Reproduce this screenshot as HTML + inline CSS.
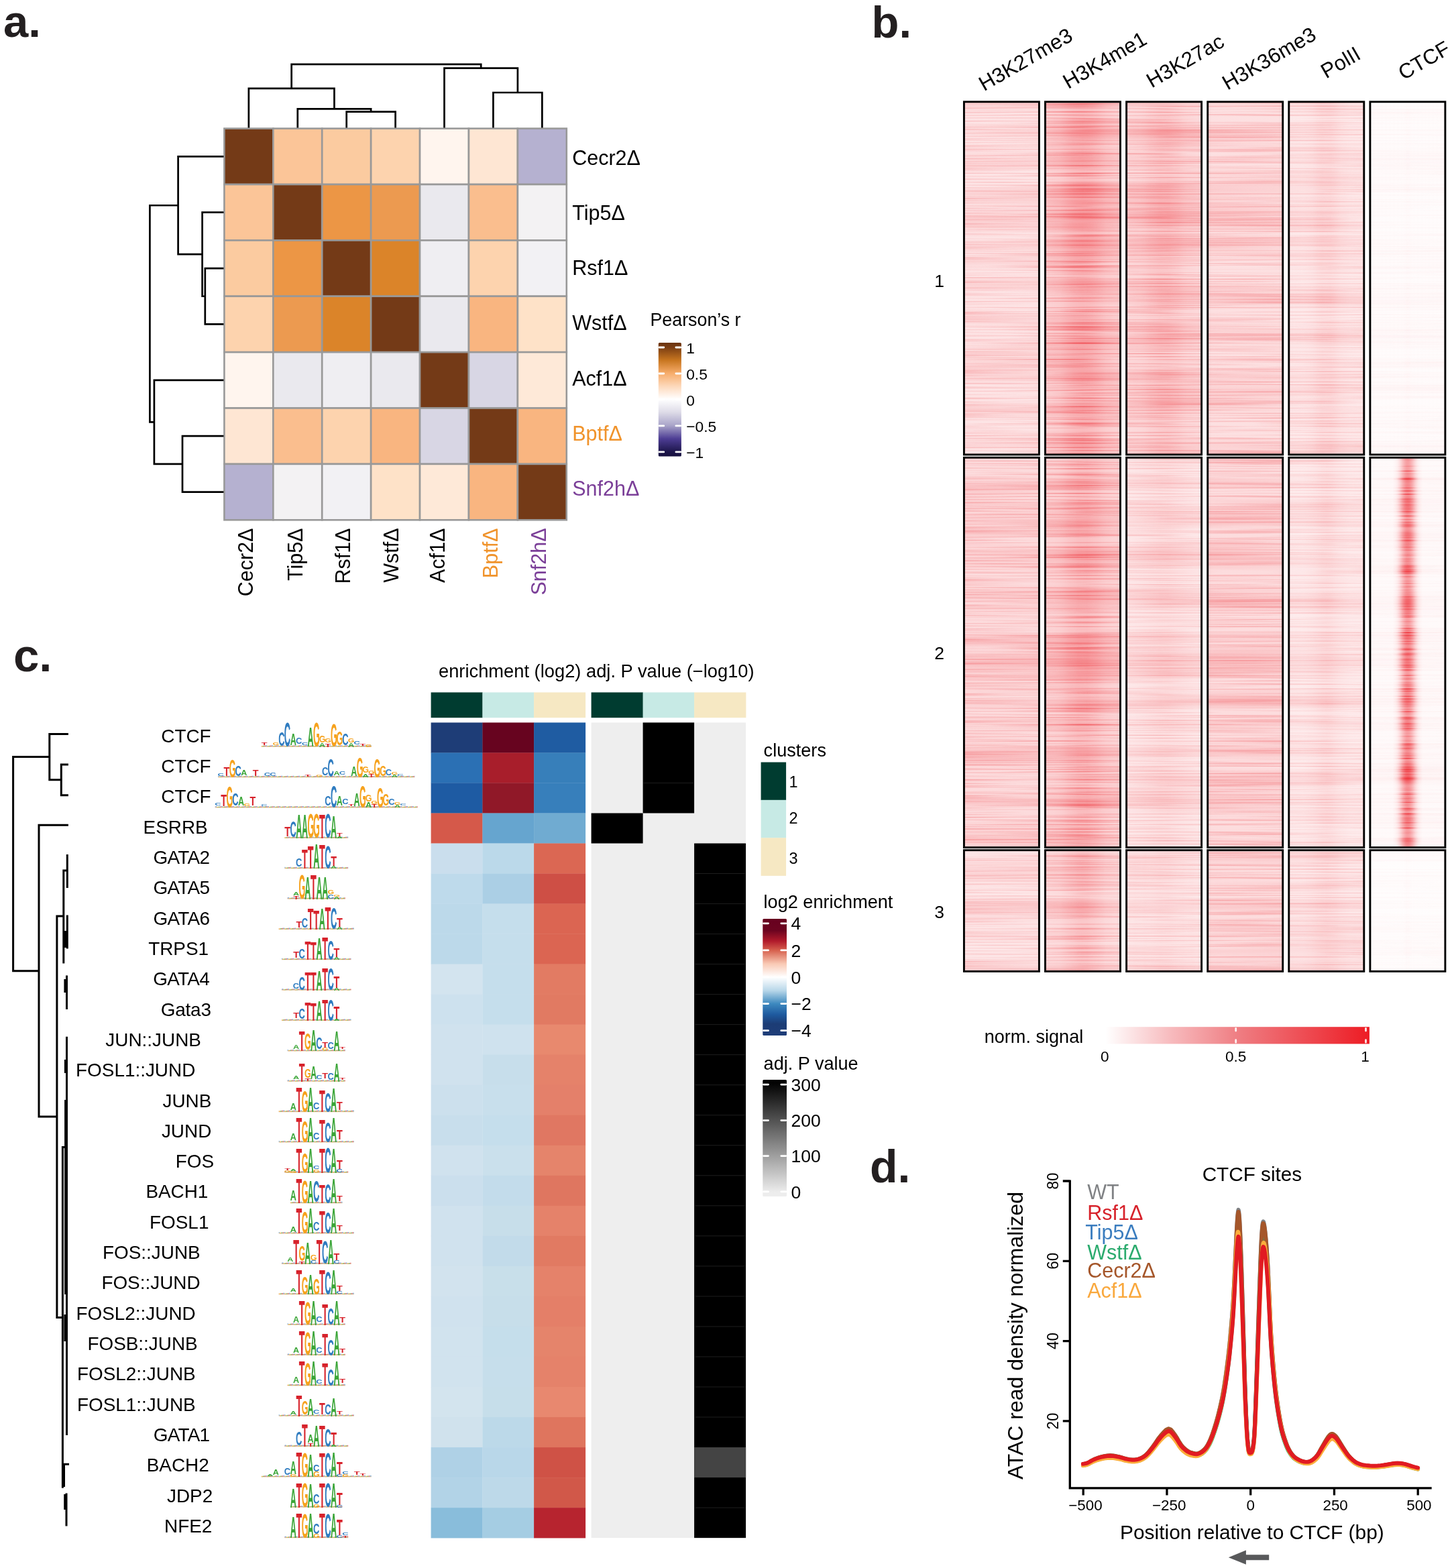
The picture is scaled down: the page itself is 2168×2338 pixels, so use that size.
<!DOCTYPE html>
<html lang="en"><head><meta charset="utf-8"><title>Figure</title>
<style>
html,body{margin:0;padding:0;background:#fff;width:2168px;height:2338px;overflow:hidden}
svg{display:block}
text{font-family:"Liberation Sans",Arial,Helvetica,sans-serif}
</style></head><body>
<svg width="2168" height="2338" viewBox="0 0 2168 2338">
<rect width="2168" height="2338" fill="#fff"/>
<g id="panel-a">
<text x="5" y="54.5" font-size="67" font-weight="bold" fill="#231f20">a.</text>
<g stroke="#999" stroke-width="2.6">
<rect x="334.4" y="191.6" width="72.91" height="83.39" fill="#743a17"/>
<rect x="407.31" y="191.6" width="72.91" height="83.39" fill="#fbc598"/>
<rect x="480.23" y="191.6" width="72.91" height="83.39" fill="#fbcba0"/>
<rect x="553.14" y="191.6" width="72.91" height="83.39" fill="#fdd3ae"/>
<rect x="626.06" y="191.6" width="72.91" height="83.39" fill="#fff5ee"/>
<rect x="698.97" y="191.6" width="72.91" height="83.39" fill="#fee6d3"/>
<rect x="771.89" y="191.6" width="72.91" height="83.39" fill="#b5b1d0"/>
<rect x="334.4" y="274.99" width="72.91" height="83.39" fill="#fbc598"/>
<rect x="407.31" y="274.99" width="72.91" height="83.39" fill="#743a17"/>
<rect x="480.23" y="274.99" width="72.91" height="83.39" fill="#ec9645"/>
<rect x="553.14" y="274.99" width="72.91" height="83.39" fill="#ec9a50"/>
<rect x="626.06" y="274.99" width="72.91" height="83.39" fill="#eae9ee"/>
<rect x="698.97" y="274.99" width="72.91" height="83.39" fill="#fabe8e"/>
<rect x="771.89" y="274.99" width="72.91" height="83.39" fill="#f3f2f3"/>
<rect x="334.4" y="358.37" width="72.91" height="83.39" fill="#fbcba0"/>
<rect x="407.31" y="358.37" width="72.91" height="83.39" fill="#ec9645"/>
<rect x="480.23" y="358.37" width="72.91" height="83.39" fill="#743a17"/>
<rect x="553.14" y="358.37" width="72.91" height="83.39" fill="#db8429"/>
<rect x="626.06" y="358.37" width="72.91" height="83.39" fill="#efeef2"/>
<rect x="698.97" y="358.37" width="72.91" height="83.39" fill="#fdd3ae"/>
<rect x="771.89" y="358.37" width="72.91" height="83.39" fill="#f2f1f4"/>
<rect x="334.4" y="441.76" width="72.91" height="83.39" fill="#fdd3ae"/>
<rect x="407.31" y="441.76" width="72.91" height="83.39" fill="#ec9a50"/>
<rect x="480.23" y="441.76" width="72.91" height="83.39" fill="#db8429"/>
<rect x="553.14" y="441.76" width="72.91" height="83.39" fill="#743a17"/>
<rect x="626.06" y="441.76" width="72.91" height="83.39" fill="#eae9ee"/>
<rect x="698.97" y="441.76" width="72.91" height="83.39" fill="#f9b580"/>
<rect x="771.89" y="441.76" width="72.91" height="83.39" fill="#fee2c8"/>
<rect x="334.4" y="525.14" width="72.91" height="83.39" fill="#fff5ee"/>
<rect x="407.31" y="525.14" width="72.91" height="83.39" fill="#eae9ee"/>
<rect x="480.23" y="525.14" width="72.91" height="83.39" fill="#efeef2"/>
<rect x="553.14" y="525.14" width="72.91" height="83.39" fill="#eae9ee"/>
<rect x="626.06" y="525.14" width="72.91" height="83.39" fill="#743a17"/>
<rect x="698.97" y="525.14" width="72.91" height="83.39" fill="#d8d6e4"/>
<rect x="771.89" y="525.14" width="72.91" height="83.39" fill="#fee9d8"/>
<rect x="334.4" y="608.53" width="72.91" height="83.39" fill="#fee6d3"/>
<rect x="407.31" y="608.53" width="72.91" height="83.39" fill="#fabe8e"/>
<rect x="480.23" y="608.53" width="72.91" height="83.39" fill="#fdd3ae"/>
<rect x="553.14" y="608.53" width="72.91" height="83.39" fill="#f9b580"/>
<rect x="626.06" y="608.53" width="72.91" height="83.39" fill="#d8d6e4"/>
<rect x="698.97" y="608.53" width="72.91" height="83.39" fill="#743a17"/>
<rect x="771.89" y="608.53" width="72.91" height="83.39" fill="#f9b580"/>
<rect x="334.4" y="691.91" width="72.91" height="83.39" fill="#b5b1d0"/>
<rect x="407.31" y="691.91" width="72.91" height="83.39" fill="#f3f2f3"/>
<rect x="480.23" y="691.91" width="72.91" height="83.39" fill="#f2f1f4"/>
<rect x="553.14" y="691.91" width="72.91" height="83.39" fill="#fee2c8"/>
<rect x="626.06" y="691.91" width="72.91" height="83.39" fill="#fee9d8"/>
<rect x="698.97" y="691.91" width="72.91" height="83.39" fill="#f9b580"/>
<rect x="771.89" y="691.91" width="72.91" height="83.39" fill="#743a17"/>
</g>
<path d="M516.69 190.6V166.6H589.6V190.6M443.77 190.6V162.3H553.14V166.6M370.86 190.6V131.8H498.46V162.3M735.43 190.6V138H808.34V190.6M662.51 190.6V101.6H771.89V138M434.66 131.8V95.8H717.2V101.6" fill="none" stroke="#000" stroke-width="2.7" stroke-linejoin="miter"/>
<path d="M333.4 400.06H305.8V483.45H333.4M333.4 316.68H301.6V441.76H305.8M333.4 233.29H265.6V379.22H301.6M333.4 650.22H272V733.61H333.4M333.4 566.84H229.9V691.91H272M265.6 306.26H223.4V629.37H229.9" fill="none" stroke="#000" stroke-width="2.7"/>
<text x="853.2" y="245.8" font-size="30.5">Cecr2Δ</text>
<text transform="translate(376.6 787.5) rotate(-90)" font-size="30.5" text-anchor="end">Cecr2Δ</text>
<text x="853.2" y="328" font-size="30.5">Tip5Δ</text>
<text transform="translate(451.3 787.5) rotate(-90)" font-size="30.5" text-anchor="end">Tip5Δ</text>
<text x="853.2" y="410.2" font-size="30.5">Rsf1Δ</text>
<text transform="translate(521.8 787.5) rotate(-90)" font-size="30.5" text-anchor="end">Rsf1Δ</text>
<text x="853.2" y="492.4" font-size="30.5">WstfΔ</text>
<text transform="translate(593.6 787.5) rotate(-90)" font-size="30.5" text-anchor="end">WstfΔ</text>
<text x="853.2" y="574.6" font-size="30.5">Acf1Δ</text>
<text transform="translate(663.3 787.5) rotate(-90)" font-size="30.5" text-anchor="end">Acf1Δ</text>
<text x="853.2" y="656.8" font-size="30.5" fill="#f0932b">BptfΔ</text>
<text transform="translate(741.9 787.5) rotate(-90)" font-size="30.5" text-anchor="end" fill="#f0932b">BptfΔ</text>
<text x="853.2" y="739" font-size="30.5" fill="#7b3f98">Snf2hΔ</text>
<text transform="translate(814.3 787.5) rotate(-90)" font-size="30.5" text-anchor="end" fill="#7b3f98">Snf2hΔ</text>
<text x="969.5" y="485.7" font-size="26.8">Pearson’s r</text>
<defs><linearGradient id="gPr" x1="0" y1="0" x2="0" y2="1"><stop offset="0" stop-color="#6b3410"/><stop offset="0.04" stop-color="#7a3d12"/><stop offset="0.155" stop-color="#c87620"/><stop offset="0.27" stop-color="#f7ad6c"/><stop offset="0.385" stop-color="#fdd9bc"/><stop offset="0.496" stop-color="#ffffff"/><stop offset="0.61" stop-color="#dedce8"/><stop offset="0.728" stop-color="#a9a4c9"/><stop offset="0.845" stop-color="#4d3d94"/><stop offset="0.96" stop-color="#1d164b"/><stop offset="1" stop-color="#17113f"/></linearGradient></defs>
<rect x="981.8" y="511" width="34.1" height="169.5" rx="1.5" fill="url(#gPr)"/>
<path d="M983 518h6.8M1014.7 518h-6.8M983 557h6.8M1014.7 557h-6.8M983 595.6h6.8M1014.7 595.6h-6.8M983 634.9h6.8M1014.7 634.9h-6.8M983 673.9h6.8M1014.7 673.9h-6.8" fill="none" stroke="#fff" stroke-width="2.8" stroke-linecap="round"/>
<text x="1023.2" y="527.1" font-size="22.8">1</text>
<text x="1023.2" y="566.1" font-size="22.8">0.5</text>
<text x="1023.2" y="604.7" font-size="22.8">0</text>
<text x="1023.2" y="644" font-size="22.8">−0.5</text>
<text x="1023.2" y="683" font-size="22.8">−1</text>
</g>
<g id="panel-b">
<text x="1299.5" y="56.3" font-size="67" font-weight="bold" fill="#231f20">b.</text>
<defs>
<filter id="nzA" x="0" y="0" width="1" height="1" color-interpolation-filters="sRGB"><feTurbulence type="fractalNoise" baseFrequency="0.0015 0.035" numOctaves="3" seed="5"/><feColorMatrix type="matrix" values="0 0 0 0 0.93  0 0 0 0 0.11  0 0 0 0 0.14  1.6 0 0 0 -0.66"/><feComposite in2="SourceGraphic" operator="in"/></filter>
<filter id="nzB" x="0" y="0" width="1" height="1" color-interpolation-filters="sRGB"><feTurbulence type="fractalNoise" baseFrequency="0.004 0.45" numOctaves="2" seed="23"/><feColorMatrix type="matrix" values="0 0 0 0 0.93  0 0 0 0 0.11  0 0 0 0 0.14  0 2.4 0 0 -1.1"/><feComposite in2="SourceGraphic" operator="in"/></filter>
<linearGradient id="p00" x1="0" y1="0" x2="1" y2="0"><stop offset="0" stop-color="#ed1c24" stop-opacity="0.22"/><stop offset="0.06" stop-color="#ed1c24" stop-opacity="0.22"/><stop offset="0.12" stop-color="#ed1c24" stop-opacity="0.22"/><stop offset="0.19" stop-color="#ed1c24" stop-opacity="0.22"/><stop offset="0.25" stop-color="#ed1c24" stop-opacity="0.22"/><stop offset="0.31" stop-color="#ed1c24" stop-opacity="0.22"/><stop offset="0.38" stop-color="#ed1c24" stop-opacity="0.22"/><stop offset="0.44" stop-color="#ed1c24" stop-opacity="0.22"/><stop offset="0.5" stop-color="#ed1c24" stop-opacity="0.22"/><stop offset="0.56" stop-color="#ed1c24" stop-opacity="0.22"/><stop offset="0.62" stop-color="#ed1c24" stop-opacity="0.22"/><stop offset="0.69" stop-color="#ed1c24" stop-opacity="0.22"/><stop offset="0.75" stop-color="#ed1c24" stop-opacity="0.22"/><stop offset="0.81" stop-color="#ed1c24" stop-opacity="0.22"/><stop offset="0.88" stop-color="#ed1c24" stop-opacity="0.22"/><stop offset="0.94" stop-color="#ed1c24" stop-opacity="0.22"/><stop offset="1" stop-color="#ed1c24" stop-opacity="0.22"/></linearGradient>
<linearGradient id="p01" x1="0" y1="0" x2="1" y2="0"><stop offset="0" stop-color="#ed1c24" stop-opacity="0.29"/><stop offset="0.06" stop-color="#ed1c24" stop-opacity="0.29"/><stop offset="0.12" stop-color="#ed1c24" stop-opacity="0.29"/><stop offset="0.19" stop-color="#ed1c24" stop-opacity="0.29"/><stop offset="0.25" stop-color="#ed1c24" stop-opacity="0.29"/><stop offset="0.31" stop-color="#ed1c24" stop-opacity="0.29"/><stop offset="0.38" stop-color="#ed1c24" stop-opacity="0.29"/><stop offset="0.44" stop-color="#ed1c24" stop-opacity="0.29"/><stop offset="0.5" stop-color="#ed1c24" stop-opacity="0.29"/><stop offset="0.56" stop-color="#ed1c24" stop-opacity="0.29"/><stop offset="0.62" stop-color="#ed1c24" stop-opacity="0.29"/><stop offset="0.69" stop-color="#ed1c24" stop-opacity="0.29"/><stop offset="0.75" stop-color="#ed1c24" stop-opacity="0.29"/><stop offset="0.81" stop-color="#ed1c24" stop-opacity="0.29"/><stop offset="0.88" stop-color="#ed1c24" stop-opacity="0.29"/><stop offset="0.94" stop-color="#ed1c24" stop-opacity="0.29"/><stop offset="1" stop-color="#ed1c24" stop-opacity="0.29"/></linearGradient>
<linearGradient id="p02" x1="0" y1="0" x2="1" y2="0"><stop offset="0" stop-color="#ed1c24" stop-opacity="0.2"/><stop offset="0.06" stop-color="#ed1c24" stop-opacity="0.2"/><stop offset="0.12" stop-color="#ed1c24" stop-opacity="0.2"/><stop offset="0.19" stop-color="#ed1c24" stop-opacity="0.2"/><stop offset="0.25" stop-color="#ed1c24" stop-opacity="0.2"/><stop offset="0.31" stop-color="#ed1c24" stop-opacity="0.2"/><stop offset="0.38" stop-color="#ed1c24" stop-opacity="0.2"/><stop offset="0.44" stop-color="#ed1c24" stop-opacity="0.2"/><stop offset="0.5" stop-color="#ed1c24" stop-opacity="0.2"/><stop offset="0.56" stop-color="#ed1c24" stop-opacity="0.2"/><stop offset="0.62" stop-color="#ed1c24" stop-opacity="0.2"/><stop offset="0.69" stop-color="#ed1c24" stop-opacity="0.2"/><stop offset="0.75" stop-color="#ed1c24" stop-opacity="0.2"/><stop offset="0.81" stop-color="#ed1c24" stop-opacity="0.2"/><stop offset="0.88" stop-color="#ed1c24" stop-opacity="0.2"/><stop offset="0.94" stop-color="#ed1c24" stop-opacity="0.2"/><stop offset="1" stop-color="#ed1c24" stop-opacity="0.2"/></linearGradient>
<linearGradient id="p10" x1="0" y1="0" x2="1" y2="0"><stop offset="0" stop-color="#ed1c24" stop-opacity="0.35"/><stop offset="0.06" stop-color="#ed1c24" stop-opacity="0.36"/><stop offset="0.12" stop-color="#ed1c24" stop-opacity="0.38"/><stop offset="0.19" stop-color="#ed1c24" stop-opacity="0.4"/><stop offset="0.25" stop-color="#ed1c24" stop-opacity="0.44"/><stop offset="0.31" stop-color="#ed1c24" stop-opacity="0.48"/><stop offset="0.38" stop-color="#ed1c24" stop-opacity="0.52"/><stop offset="0.44" stop-color="#ed1c24" stop-opacity="0.54"/><stop offset="0.5" stop-color="#ed1c24" stop-opacity="0.55"/><stop offset="0.56" stop-color="#ed1c24" stop-opacity="0.54"/><stop offset="0.62" stop-color="#ed1c24" stop-opacity="0.52"/><stop offset="0.69" stop-color="#ed1c24" stop-opacity="0.48"/><stop offset="0.75" stop-color="#ed1c24" stop-opacity="0.44"/><stop offset="0.81" stop-color="#ed1c24" stop-opacity="0.4"/><stop offset="0.88" stop-color="#ed1c24" stop-opacity="0.38"/><stop offset="0.94" stop-color="#ed1c24" stop-opacity="0.36"/><stop offset="1" stop-color="#ed1c24" stop-opacity="0.35"/></linearGradient>
<linearGradient id="p11" x1="0" y1="0" x2="1" y2="0"><stop offset="0" stop-color="#ed1c24" stop-opacity="0.34"/><stop offset="0.06" stop-color="#ed1c24" stop-opacity="0.35"/><stop offset="0.12" stop-color="#ed1c24" stop-opacity="0.36"/><stop offset="0.19" stop-color="#ed1c24" stop-opacity="0.38"/><stop offset="0.25" stop-color="#ed1c24" stop-opacity="0.41"/><stop offset="0.31" stop-color="#ed1c24" stop-opacity="0.45"/><stop offset="0.38" stop-color="#ed1c24" stop-opacity="0.48"/><stop offset="0.44" stop-color="#ed1c24" stop-opacity="0.51"/><stop offset="0.5" stop-color="#ed1c24" stop-opacity="0.51"/><stop offset="0.56" stop-color="#ed1c24" stop-opacity="0.51"/><stop offset="0.62" stop-color="#ed1c24" stop-opacity="0.48"/><stop offset="0.69" stop-color="#ed1c24" stop-opacity="0.45"/><stop offset="0.75" stop-color="#ed1c24" stop-opacity="0.41"/><stop offset="0.81" stop-color="#ed1c24" stop-opacity="0.38"/><stop offset="0.88" stop-color="#ed1c24" stop-opacity="0.36"/><stop offset="0.94" stop-color="#ed1c24" stop-opacity="0.35"/><stop offset="1" stop-color="#ed1c24" stop-opacity="0.34"/></linearGradient>
<linearGradient id="p12" x1="0" y1="0" x2="1" y2="0"><stop offset="0" stop-color="#ed1c24" stop-opacity="0.26"/><stop offset="0.06" stop-color="#ed1c24" stop-opacity="0.26"/><stop offset="0.12" stop-color="#ed1c24" stop-opacity="0.27"/><stop offset="0.19" stop-color="#ed1c24" stop-opacity="0.28"/><stop offset="0.25" stop-color="#ed1c24" stop-opacity="0.31"/><stop offset="0.31" stop-color="#ed1c24" stop-opacity="0.34"/><stop offset="0.38" stop-color="#ed1c24" stop-opacity="0.37"/><stop offset="0.44" stop-color="#ed1c24" stop-opacity="0.4"/><stop offset="0.5" stop-color="#ed1c24" stop-opacity="0.41"/><stop offset="0.56" stop-color="#ed1c24" stop-opacity="0.4"/><stop offset="0.62" stop-color="#ed1c24" stop-opacity="0.37"/><stop offset="0.69" stop-color="#ed1c24" stop-opacity="0.34"/><stop offset="0.75" stop-color="#ed1c24" stop-opacity="0.31"/><stop offset="0.81" stop-color="#ed1c24" stop-opacity="0.28"/><stop offset="0.88" stop-color="#ed1c24" stop-opacity="0.27"/><stop offset="0.94" stop-color="#ed1c24" stop-opacity="0.26"/><stop offset="1" stop-color="#ed1c24" stop-opacity="0.26"/></linearGradient>
<linearGradient id="p20" x1="0" y1="0" x2="1" y2="0"><stop offset="0" stop-color="#ed1c24" stop-opacity="0.29"/><stop offset="0.06" stop-color="#ed1c24" stop-opacity="0.3"/><stop offset="0.12" stop-color="#ed1c24" stop-opacity="0.31"/><stop offset="0.19" stop-color="#ed1c24" stop-opacity="0.32"/><stop offset="0.25" stop-color="#ed1c24" stop-opacity="0.34"/><stop offset="0.31" stop-color="#ed1c24" stop-opacity="0.37"/><stop offset="0.38" stop-color="#ed1c24" stop-opacity="0.39"/><stop offset="0.44" stop-color="#ed1c24" stop-opacity="0.41"/><stop offset="0.5" stop-color="#ed1c24" stop-opacity="0.41"/><stop offset="0.56" stop-color="#ed1c24" stop-opacity="0.41"/><stop offset="0.62" stop-color="#ed1c24" stop-opacity="0.39"/><stop offset="0.69" stop-color="#ed1c24" stop-opacity="0.37"/><stop offset="0.75" stop-color="#ed1c24" stop-opacity="0.34"/><stop offset="0.81" stop-color="#ed1c24" stop-opacity="0.32"/><stop offset="0.88" stop-color="#ed1c24" stop-opacity="0.31"/><stop offset="0.94" stop-color="#ed1c24" stop-opacity="0.3"/><stop offset="1" stop-color="#ed1c24" stop-opacity="0.29"/></linearGradient>
<linearGradient id="p21" x1="0" y1="0" x2="1" y2="0"><stop offset="0" stop-color="#ed1c24" stop-opacity="0.19"/><stop offset="0.06" stop-color="#ed1c24" stop-opacity="0.19"/><stop offset="0.12" stop-color="#ed1c24" stop-opacity="0.2"/><stop offset="0.19" stop-color="#ed1c24" stop-opacity="0.21"/><stop offset="0.25" stop-color="#ed1c24" stop-opacity="0.22"/><stop offset="0.31" stop-color="#ed1c24" stop-opacity="0.23"/><stop offset="0.38" stop-color="#ed1c24" stop-opacity="0.24"/><stop offset="0.44" stop-color="#ed1c24" stop-opacity="0.25"/><stop offset="0.5" stop-color="#ed1c24" stop-opacity="0.25"/><stop offset="0.56" stop-color="#ed1c24" stop-opacity="0.25"/><stop offset="0.62" stop-color="#ed1c24" stop-opacity="0.24"/><stop offset="0.69" stop-color="#ed1c24" stop-opacity="0.23"/><stop offset="0.75" stop-color="#ed1c24" stop-opacity="0.22"/><stop offset="0.81" stop-color="#ed1c24" stop-opacity="0.21"/><stop offset="0.88" stop-color="#ed1c24" stop-opacity="0.2"/><stop offset="0.94" stop-color="#ed1c24" stop-opacity="0.19"/><stop offset="1" stop-color="#ed1c24" stop-opacity="0.19"/></linearGradient>
<linearGradient id="p22" x1="0" y1="0" x2="1" y2="0"><stop offset="0" stop-color="#ed1c24" stop-opacity="0.2"/><stop offset="0.06" stop-color="#ed1c24" stop-opacity="0.2"/><stop offset="0.12" stop-color="#ed1c24" stop-opacity="0.21"/><stop offset="0.19" stop-color="#ed1c24" stop-opacity="0.21"/><stop offset="0.25" stop-color="#ed1c24" stop-opacity="0.22"/><stop offset="0.31" stop-color="#ed1c24" stop-opacity="0.22"/><stop offset="0.38" stop-color="#ed1c24" stop-opacity="0.23"/><stop offset="0.44" stop-color="#ed1c24" stop-opacity="0.24"/><stop offset="0.5" stop-color="#ed1c24" stop-opacity="0.24"/><stop offset="0.56" stop-color="#ed1c24" stop-opacity="0.24"/><stop offset="0.62" stop-color="#ed1c24" stop-opacity="0.23"/><stop offset="0.69" stop-color="#ed1c24" stop-opacity="0.22"/><stop offset="0.75" stop-color="#ed1c24" stop-opacity="0.22"/><stop offset="0.81" stop-color="#ed1c24" stop-opacity="0.21"/><stop offset="0.88" stop-color="#ed1c24" stop-opacity="0.21"/><stop offset="0.94" stop-color="#ed1c24" stop-opacity="0.2"/><stop offset="1" stop-color="#ed1c24" stop-opacity="0.2"/></linearGradient>
<linearGradient id="p30" x1="0" y1="0" x2="1" y2="0"><stop offset="0" stop-color="#ed1c24" stop-opacity="0.25"/><stop offset="0.06" stop-color="#ed1c24" stop-opacity="0.25"/><stop offset="0.12" stop-color="#ed1c24" stop-opacity="0.25"/><stop offset="0.19" stop-color="#ed1c24" stop-opacity="0.25"/><stop offset="0.25" stop-color="#ed1c24" stop-opacity="0.25"/><stop offset="0.31" stop-color="#ed1c24" stop-opacity="0.25"/><stop offset="0.38" stop-color="#ed1c24" stop-opacity="0.25"/><stop offset="0.44" stop-color="#ed1c24" stop-opacity="0.25"/><stop offset="0.5" stop-color="#ed1c24" stop-opacity="0.25"/><stop offset="0.56" stop-color="#ed1c24" stop-opacity="0.25"/><stop offset="0.62" stop-color="#ed1c24" stop-opacity="0.25"/><stop offset="0.69" stop-color="#ed1c24" stop-opacity="0.25"/><stop offset="0.75" stop-color="#ed1c24" stop-opacity="0.25"/><stop offset="0.81" stop-color="#ed1c24" stop-opacity="0.25"/><stop offset="0.88" stop-color="#ed1c24" stop-opacity="0.25"/><stop offset="0.94" stop-color="#ed1c24" stop-opacity="0.25"/><stop offset="1" stop-color="#ed1c24" stop-opacity="0.25"/></linearGradient>
<linearGradient id="p31" x1="0" y1="0" x2="1" y2="0"><stop offset="0" stop-color="#ed1c24" stop-opacity="0.27"/><stop offset="0.06" stop-color="#ed1c24" stop-opacity="0.28"/><stop offset="0.12" stop-color="#ed1c24" stop-opacity="0.28"/><stop offset="0.19" stop-color="#ed1c24" stop-opacity="0.28"/><stop offset="0.25" stop-color="#ed1c24" stop-opacity="0.28"/><stop offset="0.31" stop-color="#ed1c24" stop-opacity="0.28"/><stop offset="0.38" stop-color="#ed1c24" stop-opacity="0.28"/><stop offset="0.44" stop-color="#ed1c24" stop-opacity="0.28"/><stop offset="0.5" stop-color="#ed1c24" stop-opacity="0.28"/><stop offset="0.56" stop-color="#ed1c24" stop-opacity="0.28"/><stop offset="0.62" stop-color="#ed1c24" stop-opacity="0.28"/><stop offset="0.69" stop-color="#ed1c24" stop-opacity="0.28"/><stop offset="0.75" stop-color="#ed1c24" stop-opacity="0.28"/><stop offset="0.81" stop-color="#ed1c24" stop-opacity="0.28"/><stop offset="0.88" stop-color="#ed1c24" stop-opacity="0.28"/><stop offset="0.94" stop-color="#ed1c24" stop-opacity="0.28"/><stop offset="1" stop-color="#ed1c24" stop-opacity="0.27"/></linearGradient>
<linearGradient id="p32" x1="0" y1="0" x2="1" y2="0"><stop offset="0" stop-color="#ed1c24" stop-opacity="0.27"/><stop offset="0.06" stop-color="#ed1c24" stop-opacity="0.28"/><stop offset="0.12" stop-color="#ed1c24" stop-opacity="0.28"/><stop offset="0.19" stop-color="#ed1c24" stop-opacity="0.28"/><stop offset="0.25" stop-color="#ed1c24" stop-opacity="0.28"/><stop offset="0.31" stop-color="#ed1c24" stop-opacity="0.28"/><stop offset="0.38" stop-color="#ed1c24" stop-opacity="0.28"/><stop offset="0.44" stop-color="#ed1c24" stop-opacity="0.28"/><stop offset="0.5" stop-color="#ed1c24" stop-opacity="0.28"/><stop offset="0.56" stop-color="#ed1c24" stop-opacity="0.28"/><stop offset="0.62" stop-color="#ed1c24" stop-opacity="0.28"/><stop offset="0.69" stop-color="#ed1c24" stop-opacity="0.28"/><stop offset="0.75" stop-color="#ed1c24" stop-opacity="0.28"/><stop offset="0.81" stop-color="#ed1c24" stop-opacity="0.28"/><stop offset="0.88" stop-color="#ed1c24" stop-opacity="0.28"/><stop offset="0.94" stop-color="#ed1c24" stop-opacity="0.28"/><stop offset="1" stop-color="#ed1c24" stop-opacity="0.27"/></linearGradient>
<linearGradient id="p40" x1="0" y1="0" x2="1" y2="0"><stop offset="0" stop-color="#ed1c24" stop-opacity="0.18"/><stop offset="0.06" stop-color="#ed1c24" stop-opacity="0.18"/><stop offset="0.12" stop-color="#ed1c24" stop-opacity="0.18"/><stop offset="0.19" stop-color="#ed1c24" stop-opacity="0.18"/><stop offset="0.25" stop-color="#ed1c24" stop-opacity="0.19"/><stop offset="0.31" stop-color="#ed1c24" stop-opacity="0.2"/><stop offset="0.38" stop-color="#ed1c24" stop-opacity="0.23"/><stop offset="0.44" stop-color="#ed1c24" stop-opacity="0.25"/><stop offset="0.5" stop-color="#ed1c24" stop-opacity="0.25"/><stop offset="0.56" stop-color="#ed1c24" stop-opacity="0.25"/><stop offset="0.62" stop-color="#ed1c24" stop-opacity="0.23"/><stop offset="0.69" stop-color="#ed1c24" stop-opacity="0.2"/><stop offset="0.75" stop-color="#ed1c24" stop-opacity="0.19"/><stop offset="0.81" stop-color="#ed1c24" stop-opacity="0.18"/><stop offset="0.88" stop-color="#ed1c24" stop-opacity="0.18"/><stop offset="0.94" stop-color="#ed1c24" stop-opacity="0.18"/><stop offset="1" stop-color="#ed1c24" stop-opacity="0.18"/></linearGradient>
<linearGradient id="p41" x1="0" y1="0" x2="1" y2="0"><stop offset="0" stop-color="#ed1c24" stop-opacity="0.16"/><stop offset="0.06" stop-color="#ed1c24" stop-opacity="0.16"/><stop offset="0.12" stop-color="#ed1c24" stop-opacity="0.16"/><stop offset="0.19" stop-color="#ed1c24" stop-opacity="0.16"/><stop offset="0.25" stop-color="#ed1c24" stop-opacity="0.17"/><stop offset="0.31" stop-color="#ed1c24" stop-opacity="0.18"/><stop offset="0.38" stop-color="#ed1c24" stop-opacity="0.2"/><stop offset="0.44" stop-color="#ed1c24" stop-opacity="0.22"/><stop offset="0.5" stop-color="#ed1c24" stop-opacity="0.23"/><stop offset="0.56" stop-color="#ed1c24" stop-opacity="0.22"/><stop offset="0.62" stop-color="#ed1c24" stop-opacity="0.2"/><stop offset="0.69" stop-color="#ed1c24" stop-opacity="0.18"/><stop offset="0.75" stop-color="#ed1c24" stop-opacity="0.17"/><stop offset="0.81" stop-color="#ed1c24" stop-opacity="0.16"/><stop offset="0.88" stop-color="#ed1c24" stop-opacity="0.16"/><stop offset="0.94" stop-color="#ed1c24" stop-opacity="0.16"/><stop offset="1" stop-color="#ed1c24" stop-opacity="0.16"/></linearGradient>
<linearGradient id="p42" x1="0" y1="0" x2="1" y2="0"><stop offset="0" stop-color="#ed1c24" stop-opacity="0.19"/><stop offset="0.06" stop-color="#ed1c24" stop-opacity="0.19"/><stop offset="0.12" stop-color="#ed1c24" stop-opacity="0.19"/><stop offset="0.19" stop-color="#ed1c24" stop-opacity="0.19"/><stop offset="0.25" stop-color="#ed1c24" stop-opacity="0.2"/><stop offset="0.31" stop-color="#ed1c24" stop-opacity="0.21"/><stop offset="0.38" stop-color="#ed1c24" stop-opacity="0.23"/><stop offset="0.44" stop-color="#ed1c24" stop-opacity="0.24"/><stop offset="0.5" stop-color="#ed1c24" stop-opacity="0.25"/><stop offset="0.56" stop-color="#ed1c24" stop-opacity="0.24"/><stop offset="0.62" stop-color="#ed1c24" stop-opacity="0.23"/><stop offset="0.69" stop-color="#ed1c24" stop-opacity="0.21"/><stop offset="0.75" stop-color="#ed1c24" stop-opacity="0.2"/><stop offset="0.81" stop-color="#ed1c24" stop-opacity="0.19"/><stop offset="0.88" stop-color="#ed1c24" stop-opacity="0.19"/><stop offset="0.94" stop-color="#ed1c24" stop-opacity="0.19"/><stop offset="1" stop-color="#ed1c24" stop-opacity="0.19"/></linearGradient>
<linearGradient id="p50" x1="0" y1="0" x2="1" y2="0"><stop offset="0" stop-color="#ed1c24" stop-opacity="0.03"/><stop offset="0.06" stop-color="#ed1c24" stop-opacity="0.03"/><stop offset="0.12" stop-color="#ed1c24" stop-opacity="0.03"/><stop offset="0.19" stop-color="#ed1c24" stop-opacity="0.03"/><stop offset="0.25" stop-color="#ed1c24" stop-opacity="0.03"/><stop offset="0.31" stop-color="#ed1c24" stop-opacity="0.03"/><stop offset="0.38" stop-color="#ed1c24" stop-opacity="0.03"/><stop offset="0.44" stop-color="#ed1c24" stop-opacity="0.03"/><stop offset="0.5" stop-color="#ed1c24" stop-opacity="0.04"/><stop offset="0.56" stop-color="#ed1c24" stop-opacity="0.03"/><stop offset="0.62" stop-color="#ed1c24" stop-opacity="0.03"/><stop offset="0.69" stop-color="#ed1c24" stop-opacity="0.03"/><stop offset="0.75" stop-color="#ed1c24" stop-opacity="0.03"/><stop offset="0.81" stop-color="#ed1c24" stop-opacity="0.03"/><stop offset="0.88" stop-color="#ed1c24" stop-opacity="0.03"/><stop offset="0.94" stop-color="#ed1c24" stop-opacity="0.03"/><stop offset="1" stop-color="#ed1c24" stop-opacity="0.03"/></linearGradient>
<linearGradient id="p51" x1="0" y1="0" x2="1" y2="0"><stop offset="0.3" stop-color="#ed1c24" stop-opacity="0.04"/><stop offset="0.31" stop-color="#ed1c24" stop-opacity="0.05"/><stop offset="0.32" stop-color="#ed1c24" stop-opacity="0.06"/><stop offset="0.33" stop-color="#ed1c24" stop-opacity="0.07"/><stop offset="0.34" stop-color="#ed1c24" stop-opacity="0.08"/><stop offset="0.35" stop-color="#ed1c24" stop-opacity="0.1"/><stop offset="0.36" stop-color="#ed1c24" stop-opacity="0.12"/><stop offset="0.37" stop-color="#ed1c24" stop-opacity="0.15"/><stop offset="0.38" stop-color="#ed1c24" stop-opacity="0.19"/><stop offset="0.39" stop-color="#ed1c24" stop-opacity="0.23"/><stop offset="0.4" stop-color="#ed1c24" stop-opacity="0.28"/><stop offset="0.41" stop-color="#ed1c24" stop-opacity="0.34"/><stop offset="0.42" stop-color="#ed1c24" stop-opacity="0.4"/><stop offset="0.43" stop-color="#ed1c24" stop-opacity="0.47"/><stop offset="0.44" stop-color="#ed1c24" stop-opacity="0.53"/><stop offset="0.45" stop-color="#ed1c24" stop-opacity="0.59"/><stop offset="0.46" stop-color="#ed1c24" stop-opacity="0.65"/><stop offset="0.47" stop-color="#ed1c24" stop-opacity="0.7"/><stop offset="0.48" stop-color="#ed1c24" stop-opacity="0.74"/><stop offset="0.49" stop-color="#ed1c24" stop-opacity="0.76"/><stop offset="0.5" stop-color="#ed1c24" stop-opacity="0.77"/><stop offset="0.51" stop-color="#ed1c24" stop-opacity="0.76"/><stop offset="0.52" stop-color="#ed1c24" stop-opacity="0.74"/><stop offset="0.53" stop-color="#ed1c24" stop-opacity="0.7"/><stop offset="0.54" stop-color="#ed1c24" stop-opacity="0.65"/><stop offset="0.55" stop-color="#ed1c24" stop-opacity="0.59"/><stop offset="0.56" stop-color="#ed1c24" stop-opacity="0.53"/><stop offset="0.57" stop-color="#ed1c24" stop-opacity="0.47"/><stop offset="0.58" stop-color="#ed1c24" stop-opacity="0.4"/><stop offset="0.59" stop-color="#ed1c24" stop-opacity="0.34"/><stop offset="0.6" stop-color="#ed1c24" stop-opacity="0.28"/><stop offset="0.61" stop-color="#ed1c24" stop-opacity="0.23"/><stop offset="0.62" stop-color="#ed1c24" stop-opacity="0.19"/><stop offset="0.63" stop-color="#ed1c24" stop-opacity="0.15"/><stop offset="0.64" stop-color="#ed1c24" stop-opacity="0.12"/><stop offset="0.65" stop-color="#ed1c24" stop-opacity="0.1"/><stop offset="0.66" stop-color="#ed1c24" stop-opacity="0.08"/><stop offset="0.67" stop-color="#ed1c24" stop-opacity="0.07"/><stop offset="0.68" stop-color="#ed1c24" stop-opacity="0.06"/><stop offset="0.69" stop-color="#ed1c24" stop-opacity="0.05"/><stop offset="0.7" stop-color="#ed1c24" stop-opacity="0.04"/></linearGradient>
<linearGradient id="p52" x1="0" y1="0" x2="1" y2="0"><stop offset="0" stop-color="#ed1c24" stop-opacity="0.02"/><stop offset="0.06" stop-color="#ed1c24" stop-opacity="0.02"/><stop offset="0.12" stop-color="#ed1c24" stop-opacity="0.02"/><stop offset="0.19" stop-color="#ed1c24" stop-opacity="0.02"/><stop offset="0.25" stop-color="#ed1c24" stop-opacity="0.02"/><stop offset="0.31" stop-color="#ed1c24" stop-opacity="0.02"/><stop offset="0.38" stop-color="#ed1c24" stop-opacity="0.02"/><stop offset="0.44" stop-color="#ed1c24" stop-opacity="0.02"/><stop offset="0.5" stop-color="#ed1c24" stop-opacity="0.03"/><stop offset="0.56" stop-color="#ed1c24" stop-opacity="0.02"/><stop offset="0.62" stop-color="#ed1c24" stop-opacity="0.02"/><stop offset="0.69" stop-color="#ed1c24" stop-opacity="0.02"/><stop offset="0.75" stop-color="#ed1c24" stop-opacity="0.02"/><stop offset="0.81" stop-color="#ed1c24" stop-opacity="0.02"/><stop offset="0.88" stop-color="#ed1c24" stop-opacity="0.02"/><stop offset="0.94" stop-color="#ed1c24" stop-opacity="0.02"/><stop offset="1" stop-color="#ed1c24" stop-opacity="0.02"/></linearGradient>
</defs>
<rect x="1437.4" y="151.8" width="112" height="526.1" fill="url(#p00)" opacity="0.55"/>
<rect x="1437.4" y="151.8" width="112" height="526.1" fill="url(#p00)" filter="url(#nzA)"/>
<rect x="1437.4" y="151.8" width="112" height="526.1" fill="url(#p00)" filter="url(#nzB)"/>
<rect x="1558.5" y="151.8" width="112" height="526.1" fill="url(#p10)" opacity="0.55"/>
<rect x="1558.5" y="151.8" width="112" height="526.1" fill="url(#p10)" filter="url(#nzA)"/>
<rect x="1558.5" y="151.8" width="112" height="526.1" fill="url(#p10)" filter="url(#nzB)"/>
<rect x="1679.6" y="151.8" width="112" height="526.1" fill="url(#p20)" opacity="0.55"/>
<rect x="1679.6" y="151.8" width="112" height="526.1" fill="url(#p20)" filter="url(#nzA)"/>
<rect x="1679.6" y="151.8" width="112" height="526.1" fill="url(#p20)" filter="url(#nzB)"/>
<rect x="1800.7" y="151.8" width="112" height="526.1" fill="url(#p30)" opacity="0.55"/>
<rect x="1800.7" y="151.8" width="112" height="526.1" fill="url(#p30)" filter="url(#nzA)"/>
<rect x="1800.7" y="151.8" width="112" height="526.1" fill="url(#p30)" filter="url(#nzB)"/>
<rect x="1921.8" y="151.8" width="112" height="526.1" fill="url(#p40)" opacity="0.55"/>
<rect x="1921.8" y="151.8" width="112" height="526.1" fill="url(#p40)" filter="url(#nzA)"/>
<rect x="1921.8" y="151.8" width="112" height="526.1" fill="url(#p40)" filter="url(#nzB)"/>
<rect x="2042.9" y="151.8" width="112" height="526.1" fill="url(#p50)" opacity="0.55"/>
<rect x="2042.9" y="151.8" width="112" height="526.1" fill="url(#p50)" filter="url(#nzA)"/>
<rect x="2042.9" y="151.8" width="112" height="526.1" fill="url(#p50)" filter="url(#nzB)"/>
<rect x="1437.4" y="682.3" width="112" height="581.3" fill="url(#p01)" opacity="0.55"/>
<rect x="1437.4" y="682.3" width="112" height="581.3" fill="url(#p01)" filter="url(#nzA)"/>
<rect x="1437.4" y="682.3" width="112" height="581.3" fill="url(#p01)" filter="url(#nzB)"/>
<rect x="1558.5" y="682.3" width="112" height="581.3" fill="url(#p11)" opacity="0.55"/>
<rect x="1558.5" y="682.3" width="112" height="581.3" fill="url(#p11)" filter="url(#nzA)"/>
<rect x="1558.5" y="682.3" width="112" height="581.3" fill="url(#p11)" filter="url(#nzB)"/>
<rect x="1679.6" y="682.3" width="112" height="581.3" fill="url(#p21)" opacity="0.55"/>
<rect x="1679.6" y="682.3" width="112" height="581.3" fill="url(#p21)" filter="url(#nzA)"/>
<rect x="1679.6" y="682.3" width="112" height="581.3" fill="url(#p21)" filter="url(#nzB)"/>
<rect x="1800.7" y="682.3" width="112" height="581.3" fill="url(#p31)" opacity="0.55"/>
<rect x="1800.7" y="682.3" width="112" height="581.3" fill="url(#p31)" filter="url(#nzA)"/>
<rect x="1800.7" y="682.3" width="112" height="581.3" fill="url(#p31)" filter="url(#nzB)"/>
<rect x="1921.8" y="682.3" width="112" height="581.3" fill="url(#p41)" opacity="0.55"/>
<rect x="1921.8" y="682.3" width="112" height="581.3" fill="url(#p41)" filter="url(#nzA)"/>
<rect x="1921.8" y="682.3" width="112" height="581.3" fill="url(#p41)" filter="url(#nzB)"/>
<rect x="2042.9" y="682.3" width="112" height="581.3" fill="url(#p51)" opacity="0.55"/>
<rect x="2042.9" y="682.3" width="112" height="581.3" fill="url(#p51)" filter="url(#nzA)"/>
<rect x="2042.9" y="682.3" width="112" height="581.3" fill="url(#p51)" filter="url(#nzB)"/>
<rect x="1437.4" y="1267.7" width="112" height="180.7" fill="url(#p02)" opacity="0.55"/>
<rect x="1437.4" y="1267.7" width="112" height="180.7" fill="url(#p02)" filter="url(#nzA)"/>
<rect x="1437.4" y="1267.7" width="112" height="180.7" fill="url(#p02)" filter="url(#nzB)"/>
<rect x="1558.5" y="1267.7" width="112" height="180.7" fill="url(#p12)" opacity="0.55"/>
<rect x="1558.5" y="1267.7" width="112" height="180.7" fill="url(#p12)" filter="url(#nzA)"/>
<rect x="1558.5" y="1267.7" width="112" height="180.7" fill="url(#p12)" filter="url(#nzB)"/>
<rect x="1679.6" y="1267.7" width="112" height="180.7" fill="url(#p22)" opacity="0.55"/>
<rect x="1679.6" y="1267.7" width="112" height="180.7" fill="url(#p22)" filter="url(#nzA)"/>
<rect x="1679.6" y="1267.7" width="112" height="180.7" fill="url(#p22)" filter="url(#nzB)"/>
<rect x="1800.7" y="1267.7" width="112" height="180.7" fill="url(#p32)" opacity="0.55"/>
<rect x="1800.7" y="1267.7" width="112" height="180.7" fill="url(#p32)" filter="url(#nzA)"/>
<rect x="1800.7" y="1267.7" width="112" height="180.7" fill="url(#p32)" filter="url(#nzB)"/>
<rect x="1921.8" y="1267.7" width="112" height="180.7" fill="url(#p42)" opacity="0.55"/>
<rect x="1921.8" y="1267.7" width="112" height="180.7" fill="url(#p42)" filter="url(#nzA)"/>
<rect x="1921.8" y="1267.7" width="112" height="180.7" fill="url(#p42)" filter="url(#nzB)"/>
<rect x="2042.9" y="1267.7" width="112" height="180.7" fill="url(#p52)" opacity="0.55"/>
<rect x="2042.9" y="1267.7" width="112" height="180.7" fill="url(#p52)" filter="url(#nzA)"/>
<rect x="2042.9" y="1267.7" width="112" height="180.7" fill="url(#p52)" filter="url(#nzB)"/>
<g fill="none" stroke="#000" stroke-width="2.9">
<rect x="1437.4" y="151.8" width="112" height="526.1"/>
<rect x="1558.5" y="151.8" width="112" height="526.1"/>
<rect x="1679.6" y="151.8" width="112" height="526.1"/>
<rect x="1800.7" y="151.8" width="112" height="526.1"/>
<rect x="1921.8" y="151.8" width="112" height="526.1"/>
<rect x="2042.9" y="151.8" width="112" height="526.1"/>
<rect x="1437.4" y="682.3" width="112" height="581.3"/>
<rect x="1558.5" y="682.3" width="112" height="581.3"/>
<rect x="1679.6" y="682.3" width="112" height="581.3"/>
<rect x="1800.7" y="682.3" width="112" height="581.3"/>
<rect x="1921.8" y="682.3" width="112" height="581.3"/>
<rect x="2042.9" y="682.3" width="112" height="581.3"/>
<rect x="1437.4" y="1267.7" width="112" height="180.7"/>
<rect x="1558.5" y="1267.7" width="112" height="180.7"/>
<rect x="1679.6" y="1267.7" width="112" height="180.7"/>
<rect x="1800.7" y="1267.7" width="112" height="180.7"/>
<rect x="1921.8" y="1267.7" width="112" height="180.7"/>
<rect x="2042.9" y="1267.7" width="112" height="180.7"/>
</g>
<text transform="translate(1534.5 97.8) rotate(-30)" font-size="31" text-anchor="middle">H3K27me3</text>
<text transform="translate(1652.5 98.8) rotate(-30)" font-size="31" text-anchor="middle">H3K4me1</text>
<text transform="translate(1772.5 99.8) rotate(-30)" font-size="31" text-anchor="middle">H3K27ac</text>
<text transform="translate(1897.5 96.3) rotate(-30)" font-size="31" text-anchor="middle">H3K36me3</text>
<text transform="translate(2004 102.3) rotate(-30)" font-size="31" text-anchor="middle">PolII</text>
<text transform="translate(2128.5 99.3) rotate(-30)" font-size="31" text-anchor="middle">CTCF</text>
<text x="1393.3" y="427.8" font-size="26.5">1</text>
<text x="1393.3" y="982.8" font-size="26.5">2</text>
<text x="1393.3" y="1369.4" font-size="26.5">3</text>
<text x="1467.7" y="1554.8" font-size="27.1">norm. signal</text>
<defs><linearGradient id="gNs" x1="0" y1="0" x2="1" y2="0"><stop offset="0" stop-color="#fff"/><stop offset="0.25" stop-color="#f7babd"/><stop offset="0.5" stop-color="#ef7e83"/><stop offset="0.75" stop-color="#ee4d54"/><stop offset="1" stop-color="#ed1c24"/></linearGradient></defs>
<rect x="1648.5" y="1531.2" width="393.4" height="25.3" fill="url(#gNs)"/>
<path d="M1842.7 1533.4v3.6M1842.7 1554.3v-3.6M2036.5 1533.4v3.6M2036.5 1554.3v-3.6" fill="none" stroke="#fff" stroke-width="2.8" stroke-linecap="round" opacity="0.9"/>
<text x="1647.4" y="1583.2" font-size="22.6" text-anchor="middle">0</text>
<text x="1842.7" y="1583.2" font-size="22.6" text-anchor="middle">0.5</text>
<text x="2035.5" y="1583.2" font-size="22.6" text-anchor="middle">1</text>
</g>
<g id="panel-c">
<text x="20" y="1001" font-size="69" font-weight="bold" fill="#231f20">c.</text>
<path d="M100.4 1094.4H73.8V1162.8M73.8 1128.5H19.6V1447.8H58M73.8 1162.8H91.3M100.4 1140.1H91.3V1185.8H100.4M100.4 1230.3H58V1665H84.9M84.9 1366V1964.6H93.3M84.9 1366H94.8M94.8 1298.1V1435M94.8 1298.1H100.3M100.3 1275.4V1322.4M100.3 1366V1413M93.4 1710.5V2217.3M93.4 1710.5H98.5M99.5 1456V1503.5M99.5 1547.3V2138.5M95 2183.3H101.5M99 2228V2274" fill="none" stroke="#000" stroke-width="3" stroke-linecap="square"/>
<path d="M97.5 1388V1413M97.5 1460V1480M98 1580V1600M98.2 1640V1930M97.5 1960V2000M94.9 2183V2217M97.3 2228V2251" fill="none" stroke="#000" stroke-width="4.2"/>
<text x="314.6" y="1106.8" font-size="27.9" text-anchor="end">CTCF</text>
<text x="314.6" y="1152.11" font-size="27.9" text-anchor="end">CTCF</text>
<text x="314.6" y="1197.42" font-size="27.9" text-anchor="end">CTCF</text>
<text x="309.7" y="1242.73" font-size="27.9" text-anchor="end">ESRRB</text>
<text x="312.9" y="1288.04" font-size="27.9" text-anchor="end" textLength="84.35" lengthAdjust="spacing">GATA2</text>
<text x="312.9" y="1333.35" font-size="27.9" text-anchor="end" textLength="84.35" lengthAdjust="spacing">GATA5</text>
<text x="312.9" y="1378.66" font-size="27.9" text-anchor="end" textLength="84.35" lengthAdjust="spacing">GATA6</text>
<text x="311.1" y="1423.97" font-size="27.9" text-anchor="end">TRPS1</text>
<text x="312.7" y="1469.28" font-size="27.9" text-anchor="end" textLength="84.35" lengthAdjust="spacing">GATA4</text>
<text x="314.9" y="1514.59" font-size="27.9" text-anchor="end" textLength="75.04" lengthAdjust="spacing">Gata3</text>
<text x="299.9" y="1559.9" font-size="27.9" text-anchor="end">JUN::JUNB</text>
<text x="291.3" y="1605.21" font-size="27.9" text-anchor="end">FOSL1::JUND</text>
<text x="315.3" y="1650.52" font-size="27.9" text-anchor="end">JUNB</text>
<text x="315.3" y="1695.83" font-size="27.9" text-anchor="end">JUND</text>
<text x="319" y="1741.14" font-size="27.9" text-anchor="end">FOS</text>
<text x="310.4" y="1786.45" font-size="27.9" text-anchor="end">BACH1</text>
<text x="311.4" y="1831.76" font-size="27.9" text-anchor="end">FOSL1</text>
<text x="298.7" y="1877.07" font-size="27.9" text-anchor="end">FOS::JUNB</text>
<text x="298.6" y="1922.38" font-size="27.9" text-anchor="end">FOS::JUND</text>
<text x="291.7" y="1967.69" font-size="27.9" text-anchor="end">FOSL2::JUND</text>
<text x="294.7" y="2013" font-size="27.9" text-anchor="end">FOSB::JUNB</text>
<text x="291.7" y="2058.31" font-size="27.9" text-anchor="end">FOSL2::JUNB</text>
<text x="291.7" y="2103.62" font-size="27.9" text-anchor="end">FOSL1::JUNB</text>
<text x="313.1" y="2148.93" font-size="27.9" text-anchor="end" textLength="84.35" lengthAdjust="spacing">GATA1</text>
<text x="311.7" y="2194.24" font-size="27.9" text-anchor="end">BACH2</text>
<text x="317.2" y="2239.55" font-size="27.9" text-anchor="end">JDP2</text>
<text x="316.3" y="2284.86" font-size="27.9" text-anchor="end">NFE2</text>
<g font-weight="bold" font-size="10">
<path d="M389.76 1113.2h163.97" stroke="#e3c7a4" stroke-width="1.3" fill="none"/>
<path d="M389.76 1112.8h163.97" stroke="#f6a21d" stroke-width="1.5" stroke-dasharray="2.2 6.43" stroke-dashoffset="0" opacity="0.55" fill="none"/>
<path d="M389.76 1112.55h163.97" stroke="#3aa537" stroke-width="1.5" stroke-dasharray="2.2 6.43" stroke-dashoffset="-2.16" opacity="0.55" fill="none"/>
<path d="M389.76 1112.3h163.97" stroke="#d7222b" stroke-width="1.5" stroke-dasharray="2.2 6.43" stroke-dashoffset="-4.32" opacity="0.55" fill="none"/>
<path d="M389.76 1112.05h163.97" stroke="#2f7cc0" stroke-width="1.5" stroke-dasharray="2.2 6.43" stroke-dashoffset="-6.48" opacity="0.55" fill="none"/>
<text transform="matrix(1.436 0 0 0.581 389.69 1111.2)" fill="#d7222b">T</text>
<text transform="matrix(1.253 0 0 0.565 406.6 1111.14)" fill="#f6a21d">G</text>
<text transform="matrix(1.293 0 0 3.023 415.21 1111.6)" fill="#2f7cc0">C</text>
<text transform="matrix(1.293 0 0 5 423.84 1113.2)" fill="#2f7cc0">C</text>
<text transform="matrix(1.26 0 0 2.384 432.69 1110.7)" fill="#3aa537">A</text>
<text transform="matrix(1.293 0 0 1.271 441.1 1109.07)" fill="#2f7cc0">C</text>
<text transform="matrix(1.293 0 0 0.565 449.73 1110.64)" fill="#2f7cc0">C</text>
<text transform="matrix(1.26 0 0 4.026 458.58 1112.7)" fill="#3aa537">A</text>
<text transform="matrix(1.253 0 0 5 467.01 1113.2)" fill="#f6a21d">G</text>
<text transform="matrix(1.253 0 0 1.384 475.64 1107.36)" fill="#f6a21d">G</text>
<text transform="matrix(1.26 0 0 0.872 475.84 1113.7)" fill="#3aa537">A</text>
<text transform="matrix(1.253 0 0 0.989 484.27 1107.4)" fill="#f6a21d">G</text>
<text transform="matrix(1.436 0 0 0.799 484.62 1113.7)" fill="#d7222b">T</text>
<text transform="matrix(1.253 0 0 4.802 492.9 1113.22)" fill="#f6a21d">G</text>
<text transform="matrix(1.253 0 0 3.023 501.53 1111.4)" fill="#f6a21d">G</text>
<text transform="matrix(1.293 0 0 2.401 510.14 1110.76)" fill="#2f7cc0">C</text>
<text transform="matrix(1.253 0 0 0.989 518.79 1106.6)" fill="#f6a21d">G</text>
<text transform="matrix(1.26 0 0 0.945 518.99 1113.7)" fill="#3aa537">A</text>
<text transform="matrix(1.293 0 0 0.706 527.4 1110.13)" fill="#2f7cc0">C</text>
<text transform="matrix(1.436 0 0 0.436 536.4 1111.7)" fill="#d7222b">T</text>
<text transform="matrix(1.253 0 0 0.565 544.68 1113.64)" fill="#f6a21d">G</text>
<path d="M325.04 1158.56h293.42" stroke="#e3c7a4" stroke-width="1.3" fill="none"/>
<path d="M325.04 1158.16h293.42" stroke="#f6a21d" stroke-width="1.5" stroke-dasharray="2.2 6.43" stroke-dashoffset="-1.3" opacity="0.55" fill="none"/>
<path d="M325.04 1157.91h293.42" stroke="#3aa537" stroke-width="1.5" stroke-dasharray="2.2 6.43" stroke-dashoffset="-3.46" opacity="0.55" fill="none"/>
<path d="M325.04 1157.66h293.42" stroke="#d7222b" stroke-width="1.5" stroke-dasharray="2.2 6.43" stroke-dashoffset="-5.62" opacity="0.55" fill="none"/>
<path d="M325.04 1157.41h293.42" stroke="#2f7cc0" stroke-width="1.5" stroke-dasharray="2.2 6.43" stroke-dashoffset="-7.78" opacity="0.55" fill="none"/>
<text transform="matrix(1.293 0 0 0.494 324.6 1157.01)" fill="#2f7cc0">C</text>
<text transform="matrix(1.436 0 0 1.89 333.6 1156.56)" fill="#d7222b">T</text>
<text transform="matrix(1.253 0 0 3.785 341.87 1158.68)" fill="#f6a21d">G</text>
<text transform="matrix(1.293 0 0 2.26 350.49 1156.83)" fill="#2f7cc0">C</text>
<text transform="matrix(1.26 0 0 1.017 359.33 1156.06)" fill="#3aa537">A</text>
<text transform="matrix(1.436 0 0 1.235 376.75 1156.56)" fill="#d7222b">T</text>
<text transform="matrix(1.293 0 0 0.636 393.64 1157)" fill="#2f7cc0">C</text>
<text transform="matrix(1.293 0 0 0.636 402.27 1157)" fill="#2f7cc0">C</text>
<text transform="matrix(1.436 0 0 0.363 454.42 1157.56)" fill="#d7222b">T</text>
<text transform="matrix(1.253 0 0 0.424 471.32 1157.52)" fill="#f6a21d">G</text>
<text transform="matrix(1.293 0 0 1.695 479.94 1156.39)" fill="#2f7cc0">C</text>
<text transform="matrix(1.293 0 0 3.729 488.57 1157.99)" fill="#2f7cc0">C</text>
<text transform="matrix(1.26 0 0 0.916 497.41 1156.06)" fill="#3aa537">A</text>
<text transform="matrix(1.293 0 0 0.763 505.83 1154.98)" fill="#2f7cc0">C</text>
<text transform="matrix(1.26 0 0 2.035 523.3 1156.56)" fill="#3aa537">A</text>
<text transform="matrix(1.253 0 0 4.167 531.73 1158.64)" fill="#f6a21d">G</text>
<text transform="matrix(1.253 0 0 1.271 540.36 1152.43)" fill="#f6a21d">G</text>
<text transform="matrix(1.26 0 0 0.799 540.56 1159.06)" fill="#3aa537">A</text>
<text transform="matrix(1.253 0 0 0.763 548.99 1153.98)" fill="#f6a21d">G</text>
<text transform="matrix(1.436 0 0 0.654 549.35 1159.06)" fill="#d7222b">T</text>
<text transform="matrix(1.253 0 0 3.856 557.62 1158.67)" fill="#f6a21d">G</text>
<text transform="matrix(1.253 0 0 2.119 566.25 1156.85)" fill="#f6a21d">G</text>
<text transform="matrix(1.293 0 0 1.271 574.87 1155.93)" fill="#2f7cc0">C</text>
<text transform="matrix(1.253 0 0 0.508 583.51 1154.51)" fill="#f6a21d">G</text>
<text transform="matrix(1.26 0 0 0.581 583.71 1159.06)" fill="#3aa537">A</text>
<text transform="matrix(1.293 0 0 0.424 592.13 1157.02)" fill="#2f7cc0">C</text>
<path d="M320.73 1203.92h302.05" stroke="#e3c7a4" stroke-width="1.3" fill="none"/>
<path d="M320.73 1203.52h302.05" stroke="#f6a21d" stroke-width="1.5" stroke-dasharray="2.2 6.43" stroke-dashoffset="-2.6" opacity="0.55" fill="none"/>
<path d="M320.73 1203.27h302.05" stroke="#3aa537" stroke-width="1.5" stroke-dasharray="2.2 6.43" stroke-dashoffset="-4.76" opacity="0.55" fill="none"/>
<path d="M320.73 1203.02h302.05" stroke="#d7222b" stroke-width="1.5" stroke-dasharray="2.2 6.43" stroke-dashoffset="-6.92" opacity="0.55" fill="none"/>
<path d="M320.73 1202.77h302.05" stroke="#2f7cc0" stroke-width="1.5" stroke-dasharray="2.2 6.43" stroke-dashoffset="-9.08" opacity="0.55" fill="none"/>
<text transform="matrix(1.293 0 0 0.565 320.28 1201.36)" fill="#2f7cc0">C</text>
<text transform="matrix(1.436 0 0 2.326 329.28 1201.72)" fill="#d7222b">T</text>
<text transform="matrix(1.253 0 0 4.52 337.56 1203.97)" fill="#f6a21d">G</text>
<text transform="matrix(1.293 0 0 2.641 346.17 1200.66)" fill="#2f7cc0">C</text>
<text transform="matrix(1.26 0 0 1.817 355.02 1200.92)" fill="#3aa537">A</text>
<text transform="matrix(1.253 0 0 0.494 363.45 1202.37)" fill="#f6a21d">G</text>
<text transform="matrix(1.436 0 0 1.817 372.43 1200.92)" fill="#d7222b">T</text>
<text transform="matrix(1.293 0 0 0.424 389.32 1202.38)" fill="#2f7cc0">C</text>
<text transform="matrix(1.293 0 0 2.02 484.25 1200.72)" fill="#2f7cc0">C</text>
<text transform="matrix(1.293 0 0 4.661 492.88 1203.95)" fill="#2f7cc0">C</text>
<text transform="matrix(1.26 0 0 2.078 501.73 1200.92)" fill="#3aa537">A</text>
<text transform="matrix(1.293 0 0 1.059 510.14 1199.31)" fill="#2f7cc0">C</text>
<text transform="matrix(1.436 0 0 0.436 519.14 1202.42)" fill="#d7222b">T</text>
<text transform="matrix(1.26 0 0 2.718 527.62 1201.72)" fill="#3aa537">A</text>
<text transform="matrix(1.253 0 0 4.661 536.05 1203.95)" fill="#f6a21d">G</text>
<text transform="matrix(1.253 0 0 1.384 544.68 1195.28)" fill="#f6a21d">G</text>
<text transform="matrix(1.26 0 0 1.09 544.88 1203.92)" fill="#3aa537">A</text>
<text transform="matrix(1.253 0 0 0.763 553.31 1198.84)" fill="#f6a21d">G</text>
<text transform="matrix(1.436 0 0 0.727 553.66 1204.42)" fill="#d7222b">T</text>
<text transform="matrix(1.253 0 0 4.294 561.94 1203.99)" fill="#f6a21d">G</text>
<text transform="matrix(1.253 0 0 2.401 570.57 1201.48)" fill="#f6a21d">G</text>
<text transform="matrix(1.293 0 0 1.342 579.18 1200.29)" fill="#2f7cc0">C</text>
<text transform="matrix(1.253 0 0 0.494 587.83 1199.87)" fill="#f6a21d">G</text>
<text transform="matrix(1.26 0 0 0.581 588.03 1204.42)" fill="#3aa537">A</text>
<text transform="matrix(1.293 0 0 0.381 596.44 1200.88)" fill="#2f7cc0">C</text>
<path d="M424.28 1249.28h94.93" stroke="#e3c7a4" stroke-width="1.3" fill="none"/>
<path d="M424.28 1248.88h94.93" stroke="#f6a21d" stroke-width="1.5" stroke-dasharray="2.2 6.43" stroke-dashoffset="0" opacity="0.55" fill="none"/>
<path d="M424.28 1248.63h94.93" stroke="#3aa537" stroke-width="1.5" stroke-dasharray="2.2 6.43" stroke-dashoffset="-2.16" opacity="0.55" fill="none"/>
<path d="M424.28 1248.38h94.93" stroke="#d7222b" stroke-width="1.5" stroke-dasharray="2.2 6.43" stroke-dashoffset="-4.32" opacity="0.55" fill="none"/>
<path d="M424.28 1248.13h94.93" stroke="#2f7cc0" stroke-width="1.5" stroke-dasharray="2.2 6.43" stroke-dashoffset="-6.48" opacity="0.55" fill="none"/>
<text transform="matrix(1.436 0 0 1.948 424.21 1247.08)" fill="#d7222b">T</text>
<text transform="matrix(1.293 0 0 3.249 432.47 1247.66)" fill="#2f7cc0">C</text>
<text transform="matrix(1.26 0 0 5.058 441.32 1249.78)" fill="#3aa537">A</text>
<text transform="matrix(1.26 0 0 5.058 449.95 1249.78)" fill="#3aa537">A</text>
<text transform="matrix(1.253 0 0 4.915 458.38 1249.29)" fill="#f6a21d">G</text>
<text transform="matrix(1.253 0 0 4.915 467.01 1249.29)" fill="#f6a21d">G</text>
<text transform="matrix(1.436 0 0 5.058 475.99 1249.78)" fill="#d7222b">T</text>
<text transform="matrix(1.293 0 0 4.915 484.25 1249.29)" fill="#2f7cc0">C</text>
<text transform="matrix(1.26 0 0 4.797 493.1 1249.78)" fill="#3aa537">A</text>
<text transform="matrix(1.436 0 0 0.785 501.88 1247.08)" fill="#d7222b">T</text>
<text transform="matrix(1.26 0 0 0.392 501.73 1249.78)" fill="#3aa537">A</text>
<path d="M424.28 1294.64h94.93" stroke="#e3c7a4" stroke-width="1.3" fill="none"/>
<path d="M424.28 1294.24h94.93" stroke="#f6a21d" stroke-width="1.5" stroke-dasharray="2.2 6.43" stroke-dashoffset="-1.3" opacity="0.55" fill="none"/>
<path d="M424.28 1293.99h94.93" stroke="#3aa537" stroke-width="1.5" stroke-dasharray="2.2 6.43" stroke-dashoffset="-3.46" opacity="0.55" fill="none"/>
<path d="M424.28 1293.74h94.93" stroke="#d7222b" stroke-width="1.5" stroke-dasharray="2.2 6.43" stroke-dashoffset="-5.62" opacity="0.55" fill="none"/>
<path d="M424.28 1293.49h94.93" stroke="#2f7cc0" stroke-width="1.5" stroke-dasharray="2.2 6.43" stroke-dashoffset="-7.78" opacity="0.55" fill="none"/>
<text transform="matrix(1.293 0 0 1.624 441.1 1291.78)" fill="#2f7cc0">C</text>
<text transform="matrix(1.436 0 0 4.157 450.1 1295.14)" fill="#d7222b">T</text>
<text transform="matrix(1.436 0 0 4.753 458.73 1295.14)" fill="#d7222b">T</text>
<text transform="matrix(1.26 0 0 5.16 467.21 1295.14)" fill="#3aa537">A</text>
<text transform="matrix(1.436 0 0 4.913 475.99 1295.14)" fill="#d7222b">T</text>
<text transform="matrix(1.293 0 0 4.774 484.25 1294.66)" fill="#2f7cc0">C</text>
<text transform="matrix(1.436 0 0 2.137 493.25 1291.94)" fill="#d7222b">T</text>
<text transform="matrix(1.26 0 0 0.465 493.1 1295.14)" fill="#3aa537">A</text>
<path d="M428.6 1340h86.3" stroke="#e3c7a4" stroke-width="1.3" fill="none"/>
<path d="M428.6 1339.6h86.3" stroke="#f6a21d" stroke-width="1.5" stroke-dasharray="2.2 6.43" stroke-dashoffset="-2.6" opacity="0.55" fill="none"/>
<path d="M428.6 1339.35h86.3" stroke="#3aa537" stroke-width="1.5" stroke-dasharray="2.2 6.43" stroke-dashoffset="-4.76" opacity="0.55" fill="none"/>
<path d="M428.6 1339.1h86.3" stroke="#d7222b" stroke-width="1.5" stroke-dasharray="2.2 6.43" stroke-dashoffset="-6.92" opacity="0.55" fill="none"/>
<path d="M428.6 1338.85h86.3" stroke="#2f7cc0" stroke-width="1.5" stroke-dasharray="2.2 6.43" stroke-dashoffset="-9.08" opacity="0.55" fill="none"/>
<text transform="matrix(1.26 0 0 0.669 437 1335.3)" fill="#3aa537">A</text>
<text transform="matrix(1.436 0 0 0.756 437.16 1340.5)" fill="#d7222b">T</text>
<text transform="matrix(1.253 0 0 5.056 445.43 1339.99)" fill="#f6a21d">G</text>
<text transform="matrix(1.26 0 0 4.782 454.26 1340.5)" fill="#3aa537">A</text>
<text transform="matrix(1.436 0 0 5.203 463.05 1340.5)" fill="#d7222b">T</text>
<text transform="matrix(1.26 0 0 4.782 471.52 1340.5)" fill="#3aa537">A</text>
<text transform="matrix(1.26 0 0 4.782 480.15 1340.5)" fill="#3aa537">A</text>
<text transform="matrix(1.253 0 0 0.989 488.58 1333.4)" fill="#f6a21d">G</text>
<text transform="matrix(1.293 0 0 0.89 488.57 1340.41)" fill="#2f7cc0">C</text>
<text transform="matrix(1.253 0 0 0.424 497.21 1336.96)" fill="#f6a21d">G</text>
<text transform="matrix(1.26 0 0 0.509 497.41 1340.5)" fill="#3aa537">A</text>
<path d="M415.65 1385.36h112.19" stroke="#e3c7a4" stroke-width="1.3" fill="none"/>
<path d="M415.65 1384.96h112.19" stroke="#f6a21d" stroke-width="1.5" stroke-dasharray="2.2 6.43" stroke-dashoffset="0" opacity="0.55" fill="none"/>
<path d="M415.65 1384.71h112.19" stroke="#3aa537" stroke-width="1.5" stroke-dasharray="2.2 6.43" stroke-dashoffset="-2.16" opacity="0.55" fill="none"/>
<path d="M415.65 1384.46h112.19" stroke="#d7222b" stroke-width="1.5" stroke-dasharray="2.2 6.43" stroke-dashoffset="-4.32" opacity="0.55" fill="none"/>
<path d="M415.65 1384.21h112.19" stroke="#2f7cc0" stroke-width="1.5" stroke-dasharray="2.2 6.43" stroke-dashoffset="-6.48" opacity="0.55" fill="none"/>
<text transform="matrix(1.436 0 0 1.265 441.47 1382.66)" fill="#d7222b">T</text>
<text transform="matrix(1.293 0 0 2.034 449.73 1382.96)" fill="#2f7cc0">C</text>
<text transform="matrix(1.436 0 0 4.419 458.73 1385.86)" fill="#d7222b">T</text>
<text transform="matrix(1.436 0 0 4.07 467.36 1385.86)" fill="#d7222b">T</text>
<text transform="matrix(1.26 0 0 4.506 475.84 1385.86)" fill="#3aa537">A</text>
<text transform="matrix(1.436 0 0 4.753 484.62 1385.86)" fill="#d7222b">T</text>
<text transform="matrix(1.293 0 0 4.449 492.88 1385.42)" fill="#2f7cc0">C</text>
<text transform="matrix(1.436 0 0 2.035 501.88 1382.66)" fill="#d7222b">T</text>
<text transform="matrix(1.26 0 0 0.465 501.73 1385.86)" fill="#3aa537">A</text>
<path d="M419.97 1430.72h103.56" stroke="#e3c7a4" stroke-width="1.3" fill="none"/>
<path d="M419.97 1430.32h103.56" stroke="#f6a21d" stroke-width="1.5" stroke-dasharray="2.2 6.43" stroke-dashoffset="-1.3" opacity="0.55" fill="none"/>
<path d="M419.97 1430.07h103.56" stroke="#3aa537" stroke-width="1.5" stroke-dasharray="2.2 6.43" stroke-dashoffset="-3.46" opacity="0.55" fill="none"/>
<path d="M419.97 1429.82h103.56" stroke="#d7222b" stroke-width="1.5" stroke-dasharray="2.2 6.43" stroke-dashoffset="-5.62" opacity="0.55" fill="none"/>
<path d="M419.97 1429.57h103.56" stroke="#2f7cc0" stroke-width="1.5" stroke-dasharray="2.2 6.43" stroke-dashoffset="-7.78" opacity="0.55" fill="none"/>
<text transform="matrix(1.436 0 0 1.206 437.16 1427.52)" fill="#d7222b">T</text>
<text transform="matrix(1.293 0 0 1.949 445.42 1428.53)" fill="#2f7cc0">C</text>
<text transform="matrix(1.436 0 0 3.895 454.42 1431.22)" fill="#d7222b">T</text>
<text transform="matrix(1.436 0 0 3.721 463.05 1431.22)" fill="#d7222b">T</text>
<text transform="matrix(1.26 0 0 4.564 471.52 1431.22)" fill="#3aa537">A</text>
<text transform="matrix(1.436 0 0 4.724 480.31 1431.22)" fill="#d7222b">T</text>
<text transform="matrix(1.293 0 0 4.096 488.57 1430.81)" fill="#2f7cc0">C</text>
<text transform="matrix(1.436 0 0 1.933 497.57 1427.52)" fill="#d7222b">T</text>
<text transform="matrix(1.26 0 0 0.538 497.41 1431.22)" fill="#3aa537">A</text>
<path d="M419.97 1476.08h103.56" stroke="#e3c7a4" stroke-width="1.3" fill="none"/>
<path d="M419.97 1475.68h103.56" stroke="#f6a21d" stroke-width="1.5" stroke-dasharray="2.2 6.43" stroke-dashoffset="-2.6" opacity="0.55" fill="none"/>
<path d="M419.97 1475.43h103.56" stroke="#3aa537" stroke-width="1.5" stroke-dasharray="2.2 6.43" stroke-dashoffset="-4.76" opacity="0.55" fill="none"/>
<path d="M419.97 1475.18h103.56" stroke="#d7222b" stroke-width="1.5" stroke-dasharray="2.2 6.43" stroke-dashoffset="-6.92" opacity="0.55" fill="none"/>
<path d="M419.97 1474.93h103.56" stroke="#2f7cc0" stroke-width="1.5" stroke-dasharray="2.2 6.43" stroke-dashoffset="-9.08" opacity="0.55" fill="none"/>
<text transform="matrix(1.293 0 0 1.059 436.79 1473.57)" fill="#2f7cc0">C</text>
<text transform="matrix(1.293 0 0 2.853 445.42 1475.69)" fill="#2f7cc0">C</text>
<text transform="matrix(1.436 0 0 3.939 454.42 1476.58)" fill="#d7222b">T</text>
<text transform="matrix(1.436 0 0 3.939 463.05 1476.58)" fill="#d7222b">T</text>
<text transform="matrix(1.26 0 0 4.201 471.52 1476.58)" fill="#3aa537">A</text>
<text transform="matrix(1.436 0 0 4.782 480.31 1476.58)" fill="#d7222b">T</text>
<text transform="matrix(1.293 0 0 4.562 488.57 1476.12)" fill="#2f7cc0">C</text>
<text transform="matrix(1.436 0 0 2.355 497.57 1473.08)" fill="#d7222b">T</text>
<text transform="matrix(1.26 0 0 0.509 497.41 1476.58)" fill="#3aa537">A</text>
<path d="M419.97 1521.44h103.56" stroke="#e3c7a4" stroke-width="1.3" fill="none"/>
<path d="M419.97 1521.04h103.56" stroke="#f6a21d" stroke-width="1.5" stroke-dasharray="2.2 6.43" stroke-dashoffset="0" opacity="0.55" fill="none"/>
<path d="M419.97 1520.79h103.56" stroke="#3aa537" stroke-width="1.5" stroke-dasharray="2.2 6.43" stroke-dashoffset="-2.16" opacity="0.55" fill="none"/>
<path d="M419.97 1520.54h103.56" stroke="#d7222b" stroke-width="1.5" stroke-dasharray="2.2 6.43" stroke-dashoffset="-4.32" opacity="0.55" fill="none"/>
<path d="M419.97 1520.29h103.56" stroke="#2f7cc0" stroke-width="1.5" stroke-dasharray="2.2 6.43" stroke-dashoffset="-6.48" opacity="0.55" fill="none"/>
<text transform="matrix(1.436 0 0 1.003 437.16 1518.44)" fill="#d7222b">T</text>
<text transform="matrix(1.293 0 0 2.203 445.42 1519.42)" fill="#2f7cc0">C</text>
<text transform="matrix(1.436 0 0 3.939 454.42 1521.94)" fill="#d7222b">T</text>
<text transform="matrix(1.436 0 0 3.605 463.05 1521.94)" fill="#d7222b">T</text>
<text transform="matrix(1.26 0 0 4.201 471.52 1521.94)" fill="#3aa537">A</text>
<text transform="matrix(1.436 0 0 4.477 480.31 1521.94)" fill="#d7222b">T</text>
<text transform="matrix(1.293 0 0 4.407 488.57 1521.5)" fill="#2f7cc0">C</text>
<text transform="matrix(1.436 0 0 2.544 497.57 1519.04)" fill="#d7222b">T</text>
<text transform="matrix(1.26 0 0 0.422 497.41 1521.94)" fill="#3aa537">A</text>
<path d="M428.6 1566.8h86.3" stroke="#e3c7a4" stroke-width="1.3" fill="none"/>
<path d="M428.6 1566.4h86.3" stroke="#f6a21d" stroke-width="1.5" stroke-dasharray="2.2 6.43" stroke-dashoffset="-1.3" opacity="0.55" fill="none"/>
<path d="M428.6 1566.15h86.3" stroke="#3aa537" stroke-width="1.5" stroke-dasharray="2.2 6.43" stroke-dashoffset="-3.46" opacity="0.55" fill="none"/>
<path d="M428.6 1565.9h86.3" stroke="#d7222b" stroke-width="1.5" stroke-dasharray="2.2 6.43" stroke-dashoffset="-5.62" opacity="0.55" fill="none"/>
<path d="M428.6 1565.65h86.3" stroke="#2f7cc0" stroke-width="1.5" stroke-dasharray="2.2 6.43" stroke-dashoffset="-7.78" opacity="0.55" fill="none"/>
<text transform="matrix(1.26 0 0 0.916 437 1563.8)" fill="#3aa537">A</text>
<text transform="matrix(1.436 0 0 4.273 445.79 1567.3)" fill="#d7222b">T</text>
<text transform="matrix(1.253 0 0 3.503 454.06 1564.65)" fill="#f6a21d">G</text>
<text transform="matrix(1.26 0 0 4.36 462.89 1567.3)" fill="#3aa537">A</text>
<text transform="matrix(1.293 0 0 2.359 471.31 1563.56)" fill="#2f7cc0">C</text>
<text transform="matrix(1.436 0 0 1.003 480.31 1561.5)" fill="#d7222b">T</text>
<text transform="matrix(1.253 0 0 0.494 479.95 1565.75)" fill="#f6a21d">G</text>
<text transform="matrix(1.293 0 0 1.469 488.57 1563.65)" fill="#2f7cc0">C</text>
<text transform="matrix(1.26 0 0 4.273 497.41 1567.3)" fill="#3aa537">A</text>
<text transform="matrix(1.436 0 0 0.334 506.2 1563.8)" fill="#d7222b">T</text>
<path d="M428.6 1612.16h86.3" stroke="#e3c7a4" stroke-width="1.3" fill="none"/>
<path d="M428.6 1611.76h86.3" stroke="#f6a21d" stroke-width="1.5" stroke-dasharray="2.2 6.43" stroke-dashoffset="-2.6" opacity="0.55" fill="none"/>
<path d="M428.6 1611.51h86.3" stroke="#3aa537" stroke-width="1.5" stroke-dasharray="2.2 6.43" stroke-dashoffset="-4.76" opacity="0.55" fill="none"/>
<path d="M428.6 1611.26h86.3" stroke="#d7222b" stroke-width="1.5" stroke-dasharray="2.2 6.43" stroke-dashoffset="-6.92" opacity="0.55" fill="none"/>
<path d="M428.6 1611.01h86.3" stroke="#2f7cc0" stroke-width="1.5" stroke-dasharray="2.2 6.43" stroke-dashoffset="-9.08" opacity="0.55" fill="none"/>
<text transform="matrix(1.26 0 0 0.669 437 1608.66)" fill="#3aa537">A</text>
<text transform="matrix(1.436 0 0 3.852 445.79 1612.66)" fill="#d7222b">T</text>
<text transform="matrix(1.253 0 0 1.879 454.06 1607.27)" fill="#f6a21d">G</text>
<text transform="matrix(1.436 0 0 0.581 454.42 1612.16)" fill="#d7222b">T</text>
<text transform="matrix(1.26 0 0 2.762 462.89 1608.66)" fill="#3aa537">A</text>
<text transform="matrix(1.293 0 0 0.89 471.31 1608.57)" fill="#2f7cc0">C</text>
<text transform="matrix(1.436 0 0 1.09 480.31 1608.06)" fill="#d7222b">T</text>
<text transform="matrix(1.293 0 0 1.469 488.57 1609.61)" fill="#2f7cc0">C</text>
<text transform="matrix(1.26 0 0 3.852 497.41 1612.66)" fill="#3aa537">A</text>
<text transform="matrix(1.436 0 0 0.334 506.2 1610.36)" fill="#d7222b">T</text>
<path d="M415.65 1657.52h112.19" stroke="#e3c7a4" stroke-width="1.3" fill="none"/>
<path d="M415.65 1657.12h112.19" stroke="#f6a21d" stroke-width="1.5" stroke-dasharray="2.2 6.43" stroke-dashoffset="0" opacity="0.55" fill="none"/>
<path d="M415.65 1656.87h112.19" stroke="#3aa537" stroke-width="1.5" stroke-dasharray="2.2 6.43" stroke-dashoffset="-2.16" opacity="0.55" fill="none"/>
<path d="M415.65 1656.62h112.19" stroke="#d7222b" stroke-width="1.5" stroke-dasharray="2.2 6.43" stroke-dashoffset="-4.32" opacity="0.55" fill="none"/>
<path d="M415.65 1656.37h112.19" stroke="#2f7cc0" stroke-width="1.5" stroke-dasharray="2.2 6.43" stroke-dashoffset="-6.48" opacity="0.55" fill="none"/>
<text transform="matrix(1.26 0 0 1.512 432.69 1655.12)" fill="#3aa537">A</text>
<text transform="matrix(1.436 0 0 5.145 441.47 1658.02)" fill="#d7222b">T</text>
<text transform="matrix(1.253 0 0 4.407 449.75 1657.58)" fill="#f6a21d">G</text>
<text transform="matrix(1.26 0 0 5.203 458.58 1658.02)" fill="#3aa537">A</text>
<text transform="matrix(1.293 0 0 1.384 466.99 1654.38)" fill="#2f7cc0">C</text>
<text transform="matrix(1.436 0 0 4.578 475.99 1658.02)" fill="#d7222b">T</text>
<text transform="matrix(1.293 0 0 4.153 484.25 1657.6)" fill="#2f7cc0">C</text>
<text transform="matrix(1.26 0 0 4.942 493.1 1658.02)" fill="#3aa537">A</text>
<text transform="matrix(1.436 0 0 1.672 501.88 1654.52)" fill="#d7222b">T</text>
<path d="M415.65 1702.88h112.19" stroke="#e3c7a4" stroke-width="1.3" fill="none"/>
<path d="M415.65 1702.48h112.19" stroke="#f6a21d" stroke-width="1.5" stroke-dasharray="2.2 6.43" stroke-dashoffset="-1.3" opacity="0.55" fill="none"/>
<path d="M415.65 1702.23h112.19" stroke="#3aa537" stroke-width="1.5" stroke-dasharray="2.2 6.43" stroke-dashoffset="-3.46" opacity="0.55" fill="none"/>
<path d="M415.65 1701.98h112.19" stroke="#d7222b" stroke-width="1.5" stroke-dasharray="2.2 6.43" stroke-dashoffset="-5.62" opacity="0.55" fill="none"/>
<path d="M415.65 1701.73h112.19" stroke="#2f7cc0" stroke-width="1.5" stroke-dasharray="2.2 6.43" stroke-dashoffset="-7.78" opacity="0.55" fill="none"/>
<text transform="matrix(1.26 0 0 1.395 432.69 1700.48)" fill="#3aa537">A</text>
<text transform="matrix(1.436 0 0 5.203 441.47 1703.38)" fill="#d7222b">T</text>
<text transform="matrix(1.253 0 0 4.407 449.75 1702.94)" fill="#f6a21d">G</text>
<text transform="matrix(1.26 0 0 5.203 458.58 1703.38)" fill="#3aa537">A</text>
<text transform="matrix(1.293 0 0 1.469 466.99 1699.23)" fill="#2f7cc0">C</text>
<text transform="matrix(1.436 0 0 4.782 475.99 1703.38)" fill="#d7222b">T</text>
<text transform="matrix(1.293 0 0 4.322 484.25 1702.95)" fill="#2f7cc0">C</text>
<text transform="matrix(1.26 0 0 5.116 493.1 1703.38)" fill="#3aa537">A</text>
<text transform="matrix(1.436 0 0 2.006 501.88 1699.38)" fill="#d7222b">T</text>
<path d="M424.28 1748.24h94.93" stroke="#e3c7a4" stroke-width="1.3" fill="none"/>
<path d="M424.28 1747.84h94.93" stroke="#f6a21d" stroke-width="1.5" stroke-dasharray="2.2 6.43" stroke-dashoffset="-2.6" opacity="0.55" fill="none"/>
<path d="M424.28 1747.59h94.93" stroke="#3aa537" stroke-width="1.5" stroke-dasharray="2.2 6.43" stroke-dashoffset="-4.76" opacity="0.55" fill="none"/>
<path d="M424.28 1747.34h94.93" stroke="#d7222b" stroke-width="1.5" stroke-dasharray="2.2 6.43" stroke-dashoffset="-6.92" opacity="0.55" fill="none"/>
<path d="M424.28 1747.09h94.93" stroke="#2f7cc0" stroke-width="1.5" stroke-dasharray="2.2 6.43" stroke-dashoffset="-9.08" opacity="0.55" fill="none"/>
<text transform="matrix(1.436 0 0 0.363 424.21 1744.74)" fill="#d7222b">T</text>
<text transform="matrix(1.253 0 0 0.424 423.86 1748.2)" fill="#f6a21d">G</text>
<text transform="matrix(1.26 0 0 0.363 432.69 1745.74)" fill="#3aa537">A</text>
<text transform="matrix(1.253 0 0 0.353 432.49 1748.7)" fill="#f6a21d">G</text>
<text transform="matrix(1.436 0 0 5.247 441.47 1748.74)" fill="#d7222b">T</text>
<text transform="matrix(1.253 0 0 4.153 449.75 1748.32)" fill="#f6a21d">G</text>
<text transform="matrix(1.26 0 0 5.247 458.58 1748.74)" fill="#3aa537">A</text>
<text transform="matrix(1.293 0 0 0.65 466.99 1743.48)" fill="#2f7cc0">C</text>
<text transform="matrix(1.253 0 0 0.565 467.01 1748.18)" fill="#f6a21d">G</text>
<text transform="matrix(1.436 0 0 5.247 475.99 1748.74)" fill="#d7222b">T</text>
<text transform="matrix(1.293 0 0 5.099 484.25 1748.23)" fill="#2f7cc0">C</text>
<text transform="matrix(1.26 0 0 5.247 493.1 1748.74)" fill="#3aa537">A</text>
<text transform="matrix(1.436 0 0 2.006 501.88 1743.54)" fill="#d7222b">T</text>
<text transform="matrix(1.293 0 0 0.636 501.51 1748.38)" fill="#2f7cc0">C</text>
<path d="M432.92 1793.6h77.67" stroke="#e3c7a4" stroke-width="1.3" fill="none"/>
<path d="M432.92 1793.2h77.67" stroke="#f6a21d" stroke-width="1.5" stroke-dasharray="2.2 6.43" stroke-dashoffset="0" opacity="0.55" fill="none"/>
<path d="M432.92 1792.95h77.67" stroke="#3aa537" stroke-width="1.5" stroke-dasharray="2.2 6.43" stroke-dashoffset="-2.16" opacity="0.55" fill="none"/>
<path d="M432.92 1792.7h77.67" stroke="#d7222b" stroke-width="1.5" stroke-dasharray="2.2 6.43" stroke-dashoffset="-4.32" opacity="0.55" fill="none"/>
<path d="M432.92 1792.45h77.67" stroke="#2f7cc0" stroke-width="1.5" stroke-dasharray="2.2 6.43" stroke-dashoffset="-6.48" opacity="0.55" fill="none"/>
<text transform="matrix(1.26 0 0 2.18 432.69 1790.1)" fill="#3aa537">A</text>
<text transform="matrix(1.436 0 0 5.203 441.47 1794.1)" fill="#d7222b">T</text>
<text transform="matrix(1.253 0 0 4.732 449.75 1793.63)" fill="#f6a21d">G</text>
<text transform="matrix(1.26 0 0 4.869 458.58 1794.1)" fill="#3aa537">A</text>
<text transform="matrix(1.293 0 0 4.477 466.99 1792.45)" fill="#2f7cc0">C</text>
<text transform="matrix(1.436 0 0 3.852 475.99 1794.1)" fill="#d7222b">T</text>
<text transform="matrix(1.293 0 0 3.997 484.25 1793.7)" fill="#2f7cc0">C</text>
<text transform="matrix(1.26 0 0 5.203 493.1 1794.1)" fill="#3aa537">A</text>
<text transform="matrix(1.436 0 0 1.09 501.88 1790.6)" fill="#d7222b">T</text>
<path d="M415.65 1838.96h112.19" stroke="#e3c7a4" stroke-width="1.3" fill="none"/>
<path d="M415.65 1838.56h112.19" stroke="#f6a21d" stroke-width="1.5" stroke-dasharray="2.2 6.43" stroke-dashoffset="-1.3" opacity="0.55" fill="none"/>
<path d="M415.65 1838.31h112.19" stroke="#3aa537" stroke-width="1.5" stroke-dasharray="2.2 6.43" stroke-dashoffset="-3.46" opacity="0.55" fill="none"/>
<path d="M415.65 1838.06h112.19" stroke="#d7222b" stroke-width="1.5" stroke-dasharray="2.2 6.43" stroke-dashoffset="-5.62" opacity="0.55" fill="none"/>
<path d="M415.65 1837.81h112.19" stroke="#2f7cc0" stroke-width="1.5" stroke-dasharray="2.2 6.43" stroke-dashoffset="-7.78" opacity="0.55" fill="none"/>
<text transform="matrix(1.26 0 0 1.163 432.69 1837.16)" fill="#3aa537">A</text>
<text transform="matrix(1.436 0 0 5.291 441.47 1839.46)" fill="#d7222b">T</text>
<text transform="matrix(1.253 0 0 4.562 449.75 1839)" fill="#f6a21d">G</text>
<text transform="matrix(1.26 0 0 5.291 458.58 1839.46)" fill="#3aa537">A</text>
<text transform="matrix(1.293 0 0 1.794 466.99 1834.68)" fill="#2f7cc0">C</text>
<text transform="matrix(1.436 0 0 4.869 475.99 1839.46)" fill="#d7222b">T</text>
<text transform="matrix(1.293 0 0 4.477 484.25 1839.01)" fill="#2f7cc0">C</text>
<text transform="matrix(1.26 0 0 5.291 493.1 1839.46)" fill="#3aa537">A</text>
<text transform="matrix(1.436 0 0 1.09 501.88 1835.46)" fill="#d7222b">T</text>
<path d="M419.97 1884.32h103.56" stroke="#e3c7a4" stroke-width="1.3" fill="none"/>
<path d="M419.97 1883.92h103.56" stroke="#f6a21d" stroke-width="1.5" stroke-dasharray="2.2 6.43" stroke-dashoffset="-2.6" opacity="0.55" fill="none"/>
<path d="M419.97 1883.67h103.56" stroke="#3aa537" stroke-width="1.5" stroke-dasharray="2.2 6.43" stroke-dashoffset="-4.76" opacity="0.55" fill="none"/>
<path d="M419.97 1883.42h103.56" stroke="#d7222b" stroke-width="1.5" stroke-dasharray="2.2 6.43" stroke-dashoffset="-6.92" opacity="0.55" fill="none"/>
<path d="M419.97 1883.17h103.56" stroke="#2f7cc0" stroke-width="1.5" stroke-dasharray="2.2 6.43" stroke-dashoffset="-9.08" opacity="0.55" fill="none"/>
<text transform="matrix(1.26 0 0 0.916 428.37 1881.32)" fill="#3aa537">A</text>
<text transform="matrix(1.436 0 0 5.203 437.16 1884.82)" fill="#d7222b">T</text>
<text transform="matrix(1.253 0 0 3.107 445.43 1879.91)" fill="#f6a21d">G</text>
<text transform="matrix(1.436 0 0 0.581 445.79 1884.52)" fill="#d7222b">T</text>
<text transform="matrix(1.26 0 0 4.695 454.26 1884.82)" fill="#3aa537">A</text>
<text transform="matrix(1.253 0 0 1.13 462.69 1878.91)" fill="#f6a21d">G</text>
<text transform="matrix(1.293 0 0 0.636 462.68 1883.96)" fill="#2f7cc0">C</text>
<text transform="matrix(1.436 0 0 5.203 471.68 1884.82)" fill="#d7222b">T</text>
<text transform="matrix(1.293 0 0 4.802 479.94 1884.34)" fill="#2f7cc0">C</text>
<text transform="matrix(1.26 0 0 5.203 488.78 1884.82)" fill="#3aa537">A</text>
<text transform="matrix(1.436 0 0 1.512 497.57 1879.02)" fill="#d7222b">T</text>
<text transform="matrix(1.293 0 0 0.636 497.2 1883.96)" fill="#2f7cc0">C</text>
<path d="M415.65 1929.68h112.19" stroke="#e3c7a4" stroke-width="1.3" fill="none"/>
<path d="M415.65 1929.28h112.19" stroke="#f6a21d" stroke-width="1.5" stroke-dasharray="2.2 6.43" stroke-dashoffset="0" opacity="0.55" fill="none"/>
<path d="M415.65 1929.03h112.19" stroke="#3aa537" stroke-width="1.5" stroke-dasharray="2.2 6.43" stroke-dashoffset="-2.16" opacity="0.55" fill="none"/>
<path d="M415.65 1928.78h112.19" stroke="#d7222b" stroke-width="1.5" stroke-dasharray="2.2 6.43" stroke-dashoffset="-4.32" opacity="0.55" fill="none"/>
<path d="M415.65 1928.53h112.19" stroke="#2f7cc0" stroke-width="1.5" stroke-dasharray="2.2 6.43" stroke-dashoffset="-6.48" opacity="0.55" fill="none"/>
<text transform="matrix(1.26 0 0 0.756 432.69 1925.58)" fill="#3aa537">A</text>
<text transform="matrix(1.436 0 0 5.16 441.47 1930.18)" fill="#d7222b">T</text>
<text transform="matrix(1.253 0 0 3.715 449.75 1929.81)" fill="#f6a21d">G</text>
<text transform="matrix(1.26 0 0 4.201 458.58 1930.18)" fill="#3aa537">A</text>
<text transform="matrix(1.253 0 0 3.249 467.01 1929.86)" fill="#f6a21d">G</text>
<text transform="matrix(1.436 0 0 5.16 475.99 1930.18)" fill="#d7222b">T</text>
<text transform="matrix(1.293 0 0 4.802 484.25 1929.7)" fill="#2f7cc0">C</text>
<text transform="matrix(1.26 0 0 5.16 493.1 1930.18)" fill="#3aa537">A</text>
<text transform="matrix(1.436 0 0 1.017 501.88 1924.98)" fill="#d7222b">T</text>
<text transform="matrix(1.293 0 0 0.565 501.51 1929.32)" fill="#2f7cc0">C</text>
<path d="M428.6 1975.04h86.3" stroke="#e3c7a4" stroke-width="1.3" fill="none"/>
<path d="M428.6 1974.64h86.3" stroke="#f6a21d" stroke-width="1.5" stroke-dasharray="2.2 6.43" stroke-dashoffset="-1.3" opacity="0.55" fill="none"/>
<path d="M428.6 1974.39h86.3" stroke="#3aa537" stroke-width="1.5" stroke-dasharray="2.2 6.43" stroke-dashoffset="-3.46" opacity="0.55" fill="none"/>
<path d="M428.6 1974.14h86.3" stroke="#d7222b" stroke-width="1.5" stroke-dasharray="2.2 6.43" stroke-dashoffset="-5.62" opacity="0.55" fill="none"/>
<path d="M428.6 1973.89h86.3" stroke="#2f7cc0" stroke-width="1.5" stroke-dasharray="2.2 6.43" stroke-dashoffset="-7.78" opacity="0.55" fill="none"/>
<text transform="matrix(1.26 0 0 1.337 437 1972.04)" fill="#3aa537">A</text>
<text transform="matrix(1.436 0 0 5.203 445.79 1975.54)" fill="#d7222b">T</text>
<text transform="matrix(1.253 0 0 4.802 454.06 1975.06)" fill="#f6a21d">G</text>
<text transform="matrix(1.26 0 0 5.203 462.89 1975.54)" fill="#3aa537">A</text>
<text transform="matrix(1.293 0 0 1.059 471.31 1971.43)" fill="#2f7cc0">C</text>
<text transform="matrix(1.436 0 0 4.36 480.31 1975.54)" fill="#d7222b">T</text>
<text transform="matrix(1.293 0 0 3.588 488.57 1975.18)" fill="#2f7cc0">C</text>
<text transform="matrix(1.26 0 0 5.203 497.41 1975.54)" fill="#3aa537">A</text>
<text transform="matrix(1.436 0 0 1.017 506.2 1972.04)" fill="#d7222b">T</text>
<path d="M428.6 2020.4h86.3" stroke="#e3c7a4" stroke-width="1.3" fill="none"/>
<path d="M428.6 2020h86.3" stroke="#f6a21d" stroke-width="1.5" stroke-dasharray="2.2 6.43" stroke-dashoffset="-2.6" opacity="0.55" fill="none"/>
<path d="M428.6 2019.75h86.3" stroke="#3aa537" stroke-width="1.5" stroke-dasharray="2.2 6.43" stroke-dashoffset="-4.76" opacity="0.55" fill="none"/>
<path d="M428.6 2019.5h86.3" stroke="#d7222b" stroke-width="1.5" stroke-dasharray="2.2 6.43" stroke-dashoffset="-6.92" opacity="0.55" fill="none"/>
<path d="M428.6 2019.25h86.3" stroke="#2f7cc0" stroke-width="1.5" stroke-dasharray="2.2 6.43" stroke-dashoffset="-9.08" opacity="0.55" fill="none"/>
<text transform="matrix(1.26 0 0 1.163 437 2016.9)" fill="#3aa537">A</text>
<text transform="matrix(1.436 0 0 5.203 445.79 2020.9)" fill="#d7222b">T</text>
<text transform="matrix(1.253 0 0 4.802 454.06 2020.42)" fill="#f6a21d">G</text>
<text transform="matrix(1.26 0 0 5.203 462.89 2020.9)" fill="#3aa537">A</text>
<text transform="matrix(1.293 0 0 1.059 471.31 2016.79)" fill="#2f7cc0">C</text>
<text transform="matrix(1.436 0 0 4.695 480.31 2020.9)" fill="#d7222b">T</text>
<text transform="matrix(1.293 0 0 3.347 488.57 2020.57)" fill="#2f7cc0">C</text>
<text transform="matrix(1.26 0 0 5.203 497.41 2020.9)" fill="#3aa537">A</text>
<text transform="matrix(1.436 0 0 0.843 506.2 2016.9)" fill="#d7222b">T</text>
<path d="M428.6 2065.76h86.3" stroke="#e3c7a4" stroke-width="1.3" fill="none"/>
<path d="M428.6 2065.36h86.3" stroke="#f6a21d" stroke-width="1.5" stroke-dasharray="2.2 6.43" stroke-dashoffset="0" opacity="0.55" fill="none"/>
<path d="M428.6 2065.11h86.3" stroke="#3aa537" stroke-width="1.5" stroke-dasharray="2.2 6.43" stroke-dashoffset="-2.16" opacity="0.55" fill="none"/>
<path d="M428.6 2064.86h86.3" stroke="#d7222b" stroke-width="1.5" stroke-dasharray="2.2 6.43" stroke-dashoffset="-4.32" opacity="0.55" fill="none"/>
<path d="M428.6 2064.61h86.3" stroke="#2f7cc0" stroke-width="1.5" stroke-dasharray="2.2 6.43" stroke-dashoffset="-6.48" opacity="0.55" fill="none"/>
<text transform="matrix(1.26 0 0 1.265 437 2061.66)" fill="#3aa537">A</text>
<text transform="matrix(1.436 0 0 5.203 445.79 2066.26)" fill="#d7222b">T</text>
<text transform="matrix(1.253 0 0 4.887 454.06 2065.77)" fill="#f6a21d">G</text>
<text transform="matrix(1.26 0 0 5.203 462.89 2066.26)" fill="#3aa537">A</text>
<text transform="matrix(1.293 0 0 0.819 471.31 2062.68)" fill="#2f7cc0">C</text>
<text transform="matrix(1.436 0 0 4.869 480.31 2066.26)" fill="#d7222b">T</text>
<text transform="matrix(1.293 0 0 3.418 488.57 2065.92)" fill="#2f7cc0">C</text>
<text transform="matrix(1.26 0 0 5.203 497.41 2066.26)" fill="#3aa537">A</text>
<text transform="matrix(1.436 0 0 0.916 506.2 2062.26)" fill="#d7222b">T</text>
<path d="M415.65 2111.12h112.19" stroke="#e3c7a4" stroke-width="1.3" fill="none"/>
<path d="M415.65 2110.72h112.19" stroke="#f6a21d" stroke-width="1.5" stroke-dasharray="2.2 6.43" stroke-dashoffset="-1.3" opacity="0.55" fill="none"/>
<path d="M415.65 2110.47h112.19" stroke="#3aa537" stroke-width="1.5" stroke-dasharray="2.2 6.43" stroke-dashoffset="-3.46" opacity="0.55" fill="none"/>
<path d="M415.65 2110.22h112.19" stroke="#d7222b" stroke-width="1.5" stroke-dasharray="2.2 6.43" stroke-dashoffset="-5.62" opacity="0.55" fill="none"/>
<path d="M415.65 2109.97h112.19" stroke="#2f7cc0" stroke-width="1.5" stroke-dasharray="2.2 6.43" stroke-dashoffset="-7.78" opacity="0.55" fill="none"/>
<text transform="matrix(1.26 0 0 0.756 432.69 2108.52)" fill="#3aa537">A</text>
<text transform="matrix(1.436 0 0 4.39 441.47 2111.62)" fill="#d7222b">T</text>
<text transform="matrix(1.253 0 0 3.023 449.75 2109.32)" fill="#f6a21d">G</text>
<text transform="matrix(1.26 0 0 3.517 458.58 2109.62)" fill="#3aa537">A</text>
<text transform="matrix(1.293 0 0 0.89 466.99 2108.43)" fill="#2f7cc0">C</text>
<text transform="matrix(1.436 0 0 2.355 475.99 2108.52)" fill="#d7222b">T</text>
<text transform="matrix(1.293 0 0 2.119 484.25 2109.41)" fill="#2f7cc0">C</text>
<text transform="matrix(1.26 0 0 3.808 493.1 2111.62)" fill="#3aa537">A</text>
<text transform="matrix(1.436 0 0 0.669 501.88 2109.12)" fill="#d7222b">T</text>
<path d="M424.28 2156.48h94.93" stroke="#e3c7a4" stroke-width="1.3" fill="none"/>
<path d="M424.28 2156.08h94.93" stroke="#f6a21d" stroke-width="1.5" stroke-dasharray="2.2 6.43" stroke-dashoffset="-2.6" opacity="0.55" fill="none"/>
<path d="M424.28 2155.83h94.93" stroke="#3aa537" stroke-width="1.5" stroke-dasharray="2.2 6.43" stroke-dashoffset="-4.76" opacity="0.55" fill="none"/>
<path d="M424.28 2155.58h94.93" stroke="#d7222b" stroke-width="1.5" stroke-dasharray="2.2 6.43" stroke-dashoffset="-6.92" opacity="0.55" fill="none"/>
<path d="M424.28 2155.33h94.93" stroke="#2f7cc0" stroke-width="1.5" stroke-dasharray="2.2 6.43" stroke-dashoffset="-9.08" opacity="0.55" fill="none"/>
<text transform="matrix(1.293 0 0 2.938 441.1 2154.99)" fill="#2f7cc0">C</text>
<text transform="matrix(1.436 0 0 4.869 450.1 2156.98)" fill="#d7222b">T</text>
<text transform="matrix(1.26 0 0 1.672 458.58 2151.18)" fill="#3aa537">A</text>
<text transform="matrix(1.436 0 0 0.756 458.73 2156.98)" fill="#d7222b">T</text>
<text transform="matrix(1.26 0 0 4.36 467.21 2156.98)" fill="#3aa537">A</text>
<text transform="matrix(1.436 0 0 4.36 475.99 2156.98)" fill="#d7222b">T</text>
<text transform="matrix(1.293 0 0 3.743 484.25 2156.61)" fill="#2f7cc0">C</text>
<text transform="matrix(1.436 0 0 2.602 493.25 2154.08)" fill="#d7222b">T</text>
<text transform="matrix(1.26 0 0 0.422 493.1 2156.98)" fill="#3aa537">A</text>
<path d="M389.76 2201.84h163.97" stroke="#e3c7a4" stroke-width="1.3" fill="none"/>
<path d="M389.76 2201.44h163.97" stroke="#f6a21d" stroke-width="1.5" stroke-dasharray="2.2 6.43" stroke-dashoffset="0" opacity="0.55" fill="none"/>
<path d="M389.76 2201.19h163.97" stroke="#3aa537" stroke-width="1.5" stroke-dasharray="2.2 6.43" stroke-dashoffset="-2.16" opacity="0.55" fill="none"/>
<path d="M389.76 2200.94h163.97" stroke="#d7222b" stroke-width="1.5" stroke-dasharray="2.2 6.43" stroke-dashoffset="-4.32" opacity="0.55" fill="none"/>
<path d="M389.76 2200.69h163.97" stroke="#2f7cc0" stroke-width="1.5" stroke-dasharray="2.2 6.43" stroke-dashoffset="-6.48" opacity="0.55" fill="none"/>
<text transform="matrix(1.26 0 0 0.422 398.17 2201.14)" fill="#3aa537">A</text>
<text transform="matrix(1.26 0 0 1.163 406.8 2199.44)" fill="#3aa537">A</text>
<text transform="matrix(1.293 0 0 1.384 423.84 2198.7)" fill="#2f7cc0">C</text>
<text transform="matrix(1.26 0 0 2.689 432.69 2197.74)" fill="#3aa537">A</text>
<text transform="matrix(1.253 0 0 0.565 432.49 2201.98)" fill="#f6a21d">G</text>
<text transform="matrix(1.436 0 0 5.203 441.47 2202.34)" fill="#d7222b">T</text>
<text transform="matrix(1.253 0 0 5.056 449.75 2201.83)" fill="#f6a21d">G</text>
<text transform="matrix(1.26 0 0 4.782 458.58 2202.34)" fill="#3aa537">A</text>
<text transform="matrix(1.293 0 0 1.384 466.99 2194.2)" fill="#2f7cc0">C</text>
<text transform="matrix(1.253 0 0 1.059 467.01 2202.23)" fill="#f6a21d">G</text>
<text transform="matrix(1.436 0 0 4.942 475.99 2202.34)" fill="#d7222b">T</text>
<text transform="matrix(1.293 0 0 5.056 484.25 2201.83)" fill="#2f7cc0">C</text>
<text transform="matrix(1.26 0 0 5.203 493.1 2202.34)" fill="#3aa537">A</text>
<text transform="matrix(1.436 0 0 2.689 501.88 2198.84)" fill="#d7222b">T</text>
<text transform="matrix(1.293 0 0 0.494 501.51 2202.29)" fill="#2f7cc0">C</text>
<text transform="matrix(1.293 0 0 0.565 510.14 2197.68)" fill="#2f7cc0">C</text>
<text transform="matrix(1.253 0 0 0.565 510.16 2201.98)" fill="#f6a21d">G</text>
<text transform="matrix(1.436 0 0 0.669 527.77 2199.44)" fill="#d7222b">T</text>
<text transform="matrix(1.436 0 0 0.334 536.4 2200.04)" fill="#d7222b">T</text>
<path d="M432.92 2247.2h77.67" stroke="#e3c7a4" stroke-width="1.3" fill="none"/>
<path d="M432.92 2246.8h77.67" stroke="#f6a21d" stroke-width="1.5" stroke-dasharray="2.2 6.43" stroke-dashoffset="-1.3" opacity="0.55" fill="none"/>
<path d="M432.92 2246.55h77.67" stroke="#3aa537" stroke-width="1.5" stroke-dasharray="2.2 6.43" stroke-dashoffset="-3.46" opacity="0.55" fill="none"/>
<path d="M432.92 2246.3h77.67" stroke="#d7222b" stroke-width="1.5" stroke-dasharray="2.2 6.43" stroke-dashoffset="-5.62" opacity="0.55" fill="none"/>
<path d="M432.92 2246.05h77.67" stroke="#2f7cc0" stroke-width="1.5" stroke-dasharray="2.2 6.43" stroke-dashoffset="-7.78" opacity="0.55" fill="none"/>
<text transform="matrix(1.26 0 0 3.997 432.69 2247.7)" fill="#3aa537">A</text>
<text transform="matrix(1.436 0 0 5.16 441.47 2247.7)" fill="#d7222b">T</text>
<text transform="matrix(1.253 0 0 4.944 449.75 2247.21)" fill="#f6a21d">G</text>
<text transform="matrix(1.26 0 0 4.913 458.58 2247.7)" fill="#3aa537">A</text>
<text transform="matrix(1.293 0 0 2.034 466.99 2241.5)" fill="#2f7cc0">C</text>
<text transform="matrix(1.253 0 0 0.777 467.01 2247.62)" fill="#f6a21d">G</text>
<text transform="matrix(1.436 0 0 5.16 475.99 2247.7)" fill="#d7222b">T</text>
<text transform="matrix(1.293 0 0 5.014 484.25 2247.2)" fill="#2f7cc0">C</text>
<text transform="matrix(1.26 0 0 5.16 493.1 2247.7)" fill="#3aa537">A</text>
<text transform="matrix(1.436 0 0 2.602 501.88 2243.9)" fill="#d7222b">T</text>
<text transform="matrix(1.293 0 0 0.537 501.51 2247.65)" fill="#2f7cc0">C</text>
<path d="M424.28 2292.56h94.93" stroke="#e3c7a4" stroke-width="1.3" fill="none"/>
<path d="M424.28 2292.16h94.93" stroke="#f6a21d" stroke-width="1.5" stroke-dasharray="2.2 6.43" stroke-dashoffset="-2.6" opacity="0.55" fill="none"/>
<path d="M424.28 2291.91h94.93" stroke="#3aa537" stroke-width="1.5" stroke-dasharray="2.2 6.43" stroke-dashoffset="-4.76" opacity="0.55" fill="none"/>
<path d="M424.28 2291.66h94.93" stroke="#d7222b" stroke-width="1.5" stroke-dasharray="2.2 6.43" stroke-dashoffset="-6.92" opacity="0.55" fill="none"/>
<path d="M424.28 2291.41h94.93" stroke="#2f7cc0" stroke-width="1.5" stroke-dasharray="2.2 6.43" stroke-dashoffset="-9.08" opacity="0.55" fill="none"/>
<text transform="matrix(1.26 0 0 4.39 432.69 2293.06)" fill="#3aa537">A</text>
<text transform="matrix(1.436 0 0 5.203 441.47 2293.06)" fill="#d7222b">T</text>
<text transform="matrix(1.253 0 0 5 449.75 2292.56)" fill="#f6a21d">G</text>
<text transform="matrix(1.26 0 0 5.145 458.58 2293.06)" fill="#3aa537">A</text>
<text transform="matrix(1.293 0 0 2.203 466.99 2286.84)" fill="#2f7cc0">C</text>
<text transform="matrix(1.253 0 0 0.847 467.01 2292.98)" fill="#f6a21d">G</text>
<text transform="matrix(1.436 0 0 5.203 475.99 2293.06)" fill="#d7222b">T</text>
<text transform="matrix(1.293 0 0 5.056 484.25 2292.55)" fill="#2f7cc0">C</text>
<text transform="matrix(1.26 0 0 5.203 493.1 2293.06)" fill="#3aa537">A</text>
<text transform="matrix(1.436 0 0 3.343 501.88 2289.36)" fill="#d7222b">T</text>
<text transform="matrix(1.293 0 0 0.523 501.51 2293.01)" fill="#2f7cc0">C</text>
<text transform="matrix(1.293 0 0 0.565 510.14 2289.3)" fill="#2f7cc0">C</text>
<text transform="matrix(1.436 0 0 0.436 510.51 2292.76)" fill="#d7222b">T</text>
</g>
<rect x="642.6" y="1032.4" width="77.1" height="37.8" fill="#003c30"/>
<rect x="881.6" y="1032.4" width="77.3" height="37.8" fill="#003c30"/>
<rect x="719.4" y="1032.4" width="77" height="37.8" fill="#c7eae5"/>
<rect x="958.6" y="1032.4" width="76.8" height="37.8" fill="#c7eae5"/>
<rect x="796.1" y="1032.4" width="77" height="37.8" fill="#f6e8c3"/>
<rect x="1035.1" y="1032.4" width="77.3" height="37.8" fill="#f6e8c3"/>
<rect x="881.6" y="1077.4" width="230.5" height="1215.73" fill="#eeeeee"/>
<rect x="642.6" y="1077.4" width="77.1" height="45.33" fill="#1e3d77"/>
<rect x="719.4" y="1077.4" width="77" height="45.33" fill="#67041f"/>
<rect x="796.1" y="1077.4" width="77" height="45.33" fill="#1f5ca2"/>
<rect x="642.6" y="1122.43" width="77.1" height="45.33" fill="#2b70b4"/>
<rect x="719.4" y="1122.43" width="77" height="45.33" fill="#a81e2b"/>
<rect x="796.1" y="1122.43" width="77" height="45.33" fill="#377fba"/>
<rect x="642.6" y="1167.45" width="77.1" height="45.33" fill="#1e5ba3"/>
<rect x="719.4" y="1167.45" width="77" height="45.33" fill="#901828"/>
<rect x="796.1" y="1167.45" width="77" height="45.33" fill="#377fbb"/>
<rect x="642.6" y="1212.48" width="77.1" height="45.33" fill="#d5594a"/>
<rect x="719.4" y="1212.48" width="77" height="45.33" fill="#66a5cf"/>
<rect x="796.1" y="1212.48" width="77" height="45.33" fill="#70abd1"/>
<rect x="642.6" y="1257.51" width="77.1" height="45.33" fill="#cadeed"/>
<rect x="719.4" y="1257.51" width="77" height="45.33" fill="#bbd9ea"/>
<rect x="796.1" y="1257.51" width="77" height="45.33" fill="#db6753"/>
<rect x="642.6" y="1302.54" width="77.1" height="45.33" fill="#bedaeb"/>
<rect x="719.4" y="1302.54" width="77" height="45.33" fill="#abcfe5"/>
<rect x="796.1" y="1302.54" width="77" height="45.33" fill="#ce4f45"/>
<rect x="642.6" y="1347.56" width="77.1" height="45.33" fill="#bcd9ea"/>
<rect x="719.4" y="1347.56" width="77" height="45.33" fill="#c5deec"/>
<rect x="796.1" y="1347.56" width="77" height="45.33" fill="#db6552"/>
<rect x="642.6" y="1392.59" width="77.1" height="45.33" fill="#bcd9ea"/>
<rect x="719.4" y="1392.59" width="77" height="45.33" fill="#c5deec"/>
<rect x="796.1" y="1392.59" width="77" height="45.33" fill="#db6552"/>
<rect x="642.6" y="1437.62" width="77.1" height="45.33" fill="#d3e4ef"/>
<rect x="719.4" y="1437.62" width="77" height="45.33" fill="#c5deec"/>
<rect x="796.1" y="1437.62" width="77" height="45.33" fill="#e27b63"/>
<rect x="642.6" y="1482.64" width="77.1" height="45.33" fill="#cde1ee"/>
<rect x="719.4" y="1482.64" width="77" height="45.33" fill="#c5deec"/>
<rect x="796.1" y="1482.64" width="77" height="45.33" fill="#e17a62"/>
<rect x="642.6" y="1527.67" width="77.1" height="45.33" fill="#d0e2ee"/>
<rect x="719.4" y="1527.67" width="77" height="45.33" fill="#cfe2ee"/>
<rect x="796.1" y="1527.67" width="77" height="45.33" fill="#e8896e"/>
<rect x="642.6" y="1572.7" width="77.1" height="45.33" fill="#d0e2ee"/>
<rect x="719.4" y="1572.7" width="77" height="45.33" fill="#c7deeb"/>
<rect x="796.1" y="1572.7" width="77" height="45.33" fill="#e5826a"/>
<rect x="642.6" y="1617.72" width="77.1" height="45.33" fill="#cce0ed"/>
<rect x="719.4" y="1617.72" width="77" height="45.33" fill="#c8dfec"/>
<rect x="796.1" y="1617.72" width="77" height="45.33" fill="#e4806a"/>
<rect x="642.6" y="1662.75" width="77.1" height="45.33" fill="#c8deec"/>
<rect x="719.4" y="1662.75" width="77" height="45.33" fill="#c5deec"/>
<rect x="796.1" y="1662.75" width="77" height="45.33" fill="#e07762"/>
<rect x="642.6" y="1707.78" width="77.1" height="45.33" fill="#d0e2ee"/>
<rect x="719.4" y="1707.78" width="77" height="45.33" fill="#cae0ec"/>
<rect x="796.1" y="1707.78" width="77" height="45.33" fill="#e5846b"/>
<rect x="642.6" y="1752.81" width="77.1" height="45.33" fill="#cbdfed"/>
<rect x="719.4" y="1752.81" width="77" height="45.33" fill="#c3dceb"/>
<rect x="796.1" y="1752.81" width="77" height="45.33" fill="#df7660"/>
<rect x="642.6" y="1797.83" width="77.1" height="45.33" fill="#d0e2ee"/>
<rect x="719.4" y="1797.83" width="77" height="45.33" fill="#c7deea"/>
<rect x="796.1" y="1797.83" width="77" height="45.33" fill="#e5826a"/>
<rect x="642.6" y="1842.86" width="77.1" height="45.33" fill="#d0e2ee"/>
<rect x="719.4" y="1842.86" width="77" height="45.33" fill="#c2dbea"/>
<rect x="796.1" y="1842.86" width="77" height="45.33" fill="#e17a62"/>
<rect x="642.6" y="1887.89" width="77.1" height="45.33" fill="#d2e3ee"/>
<rect x="719.4" y="1887.89" width="77" height="45.33" fill="#c8dfea"/>
<rect x="796.1" y="1887.89" width="77" height="45.33" fill="#e5826a"/>
<rect x="642.6" y="1932.91" width="77.1" height="45.33" fill="#d0e2ee"/>
<rect x="719.4" y="1932.91" width="77" height="45.33" fill="#c7deea"/>
<rect x="796.1" y="1932.91" width="77" height="45.33" fill="#e47f68"/>
<rect x="642.6" y="1977.94" width="77.1" height="45.33" fill="#d1e3ee"/>
<rect x="719.4" y="1977.94" width="77" height="45.33" fill="#c5deeb"/>
<rect x="796.1" y="1977.94" width="77" height="45.33" fill="#e5846b"/>
<rect x="642.6" y="2022.97" width="77.1" height="45.33" fill="#d1e3ee"/>
<rect x="719.4" y="2022.97" width="77" height="45.33" fill="#c6deeb"/>
<rect x="796.1" y="2022.97" width="77" height="45.33" fill="#e5826a"/>
<rect x="642.6" y="2067.99" width="77.1" height="45.33" fill="#d3e4ee"/>
<rect x="719.4" y="2067.99" width="77" height="45.33" fill="#c6deea"/>
<rect x="796.1" y="2067.99" width="77" height="45.33" fill="#e8886f"/>
<rect x="642.6" y="2113.02" width="77.1" height="45.33" fill="#d0e2ed"/>
<rect x="719.4" y="2113.02" width="77" height="45.33" fill="#bcd9e9"/>
<rect x="796.1" y="2113.02" width="77" height="45.33" fill="#df755e"/>
<rect x="642.6" y="2158.05" width="77.1" height="45.33" fill="#afd1e6"/>
<rect x="719.4" y="2158.05" width="77" height="45.33" fill="#b9d7e9"/>
<rect x="796.1" y="2158.05" width="77" height="45.33" fill="#cf5246"/>
<rect x="642.6" y="2203.07" width="77.1" height="45.33" fill="#b2d3e7"/>
<rect x="719.4" y="2203.07" width="77" height="45.33" fill="#bdd9e9"/>
<rect x="796.1" y="2203.07" width="77" height="45.33" fill="#d15849"/>
<rect x="642.6" y="2248.1" width="77.1" height="45.33" fill="#89bddb"/>
<rect x="719.4" y="2248.1" width="77" height="45.33" fill="#a5cde3"/>
<rect x="796.1" y="2248.1" width="77" height="45.33" fill="#b7242f"/>
<rect x="958.6" y="1077.4" width="76.5" height="135.08" fill="#000"/>
<rect x="881.6" y="1212.48" width="77" height="45.03" fill="#000"/>
<rect x="1035.1" y="1257.51" width="77" height="1035.62" fill="#000"/>
<rect x="1035.1" y="2158.05" width="77" height="45.03" fill="#444"/>
<path d="M1036.1 1302.54H1111.1M1036.1 1347.56H1111.1M1036.1 1392.59H1111.1M1036.1 1437.62H1111.1M1036.1 1482.64H1111.1M1036.1 1527.67H1111.1M1036.1 1572.7H1111.1M1036.1 1617.72H1111.1M1036.1 1662.75H1111.1M1036.1 1707.78H1111.1M1036.1 1752.81H1111.1M1036.1 1797.83H1111.1M1036.1 1842.86H1111.1M1036.1 1887.89H1111.1M1036.1 1932.91H1111.1M1036.1 1977.94H1111.1M1036.1 2022.97H1111.1M1036.1 2067.99H1111.1M1036.1 2113.02H1111.1M1036.1 2248.1H1111.1M959.6 1167.45H1034.1" fill="none" stroke="#262626" stroke-width="0.8"/>
<text x="654" y="1010" font-size="27.3">enrichment (log2) adj. P value (−log10)</text>
<text x="1138.6" y="1128" font-size="27.1">clusters</text>
<rect x="1134.6" y="1136.5" width="37.5" height="56.6" fill="#003c30"/>
<rect x="1134.6" y="1192.8" width="37.5" height="56.8" fill="#c7eae5"/>
<rect x="1134.6" y="1249.3" width="37.5" height="56.6" fill="#f6e8c3"/>
<text x="1176.5" y="1173.8" font-size="23.5">1</text>
<text x="1176.5" y="1228" font-size="23.5">2</text>
<text x="1176.5" y="1288.1" font-size="23.5">3</text>
<text x="1138.6" y="1354.1" font-size="27.1">log2 enrichment</text>
<defs><linearGradient id="gEn" x1="0" y1="0" x2="0" y2="1"><stop offset="0" stop-color="#67001f"/><stop offset="0.10" stop-color="#6c0420"/><stop offset="0.19" stop-color="#b11a2b"/><stop offset="0.27" stop-color="#d6604d"/><stop offset="0.385" stop-color="#f9c9b4"/><stop offset="0.5" stop-color="#ffffff"/><stop offset="0.615" stop-color="#b8d7e9"/><stop offset="0.728" stop-color="#3d89bf"/><stop offset="0.82" stop-color="#1e5a9f"/><stop offset="0.9" stop-color="#1c3c75"/><stop offset="1" stop-color="#1e3d78"/></linearGradient><linearGradient id="gPv" x1="0" y1="0" x2="0" y2="1"><stop offset="0" stop-color="#000"/><stop offset="0.04" stop-color="#050505"/><stop offset="0.96" stop-color="#ececec"/><stop offset="1" stop-color="#eeeeee"/></linearGradient></defs>
<rect x="1137.3" y="1370" width="35.7" height="174" rx="1.5" fill="url(#gEn)"/>
<rect x="1137.3" y="1610" width="35.7" height="174" rx="1.5" fill="url(#gPv)"/>
<path d="M1138.5 1376.8h7M1171.8 1376.8h-7M1138.5 1416.9h7M1171.8 1416.9h-7M1138.5 1456.9h7M1171.8 1456.9h-7M1138.5 1496.6h7M1171.8 1496.6h-7M1138.5 1536.7h7M1171.8 1536.7h-7M1138.5 1617.1h7M1171.8 1617.1h-7M1138.5 1670.6h7M1171.8 1670.6h-7M1138.5 1723.6h7M1171.8 1723.6h-7M1138.5 1776.9h7M1171.8 1776.9h-7" fill="none" stroke="#fff" stroke-width="2.8" stroke-linecap="round"/>
<text x="1179.5" y="1386.4" font-size="26.5">4</text>
<text x="1179.5" y="1426.5" font-size="26.5">2</text>
<text x="1179.5" y="1466.5" font-size="26.5">0</text>
<text x="1179.5" y="1506.2" font-size="26.5">−2</text>
<text x="1179.5" y="1546.3" font-size="26.5">−4</text>
<text x="1138.6" y="1594.6" font-size="27.1">adj. P value</text>
<text x="1179.5" y="1626.7" font-size="26.5">300</text>
<text x="1179.5" y="1680.2" font-size="26.5">200</text>
<text x="1179.5" y="1733.2" font-size="26.5">100</text>
<text x="1179.5" y="1786.5" font-size="26.5">0</text>
</g>
<g id="panel-d">
<text x="1297" y="1763" font-size="68" font-weight="bold" fill="#231f20">d.</text>
<text x="1866.9" y="1761.2" font-size="29.7" text-anchor="middle">CTCF sites</text>
<clipPath id="cpd"><rect x="1612" y="1770" width="505.4" height="445"/></clipPath>
<g clip-path="url(#cpd)" fill="none" stroke-width="5.9" stroke-linejoin="round" stroke-linecap="round">
<path d="M1614.59 2183.14L1616.26 2182.86L1618.69 2182.39L1621.41 2181.53L1624.3 2180.02L1627.48 2178.1L1630.88 2176.31L1634.46 2174.81L1638.24 2173.44L1642.24 2172.3L1646.52 2171.33L1651.01 2170.59L1655.5 2170.29L1659.99 2170.62L1664.48 2171.39L1668.76 2172.3L1672.69 2173.35L1676.4 2174.54L1680.12 2175.51L1683.98 2176.19L1687.84 2176.65L1691.48 2176.71L1694.82 2176.3L1697.94 2175.48L1700.95 2174.31L1703.82 2172.86L1706.57 2171.06L1709.43 2168.64L1712.42 2165.49L1715.51 2161.71L1718.87 2157.39L1722.62 2152.11L1726.64 2146.28L1730.66 2141.14L1734.68 2136.65L1738.7 2132.85L1742.45 2131.14L1745.77 2132.43L1748.83 2135.81L1751.89 2139.89L1755.03 2144.66L1758.18 2150.12L1761.32 2154.89L1764.51 2158.47L1767.7 2161.36L1770.75 2163.64L1773.64 2165.23L1776.39 2166.21L1779.01 2166.88L1781.46 2167.41L1783.77 2167.63L1786.08 2167.38L1788.49 2166.53L1790.89 2165.21L1793.16 2163.61L1795.21 2161.89L1797.13 2159.88L1799.06 2157.32L1801.02 2154.1L1802.99 2150.31L1804.95 2145.96L1806.92 2140.99L1808.88 2135.44L1810.85 2129.45L1812.81 2123.11L1814.78 2116.33L1816.75 2108.95L1818.75 2100.81L1820.76 2092.07L1822.64 2083.01L1824.3 2073.93L1825.83 2064.53L1827.36 2054.22L1828.99 2042.3L1830.63 2029.48L1832.08 2017.22L1833.23 2006.32L1834.2 1995.98L1835.14 1985.33L1836.14 1973.86L1837.11 1962.08L1837.97 1950.6L1838.68 1939.82L1839.28 1929.34L1839.86 1918.56L1840.44 1906.99L1840.99 1895.13L1841.51 1883.84L1842.01 1873.42L1842.48 1863.57L1842.92 1854.32L1843.34 1845.61L1843.72 1837.48L1844.1 1830.08L1844.5 1823.35L1844.89 1817.34L1845.28 1812.36L1845.68 1808.3L1846.07 1805.26L1846.46 1803.83L1846.86 1804.32L1847.25 1806.42L1847.64 1809.85L1848.03 1814.36L1848.41 1820.21L1848.82 1827.82L1849.26 1837.04L1849.72 1848.04L1850.24 1861.69L1850.81 1878.38L1851.44 1897.74L1852.12 1919.49L1852.87 1944.32L1853.68 1971.54L1854.48 1998.81L1855.27 2026.34L1856.05 2053.91L1856.84 2078.55L1857.64 2099.36L1858.45 2117.24L1859.2 2131.86L1859.87 2142.64L1860.49 2150.16L1861.08 2155.9L1861.65 2160.03L1862.19 2162.38L1862.74 2163.92L1863.27 2164.8L1863.8 2164.88L1864.39 2164.72L1865.07 2164.66L1865.8 2164.37L1866.51 2163.39L1867.16 2161.76L1867.78 2159.46L1868.4 2155.9L1869.03 2151.19L1869.67 2145.24L1870.28 2137.21L1870.85 2126.54L1871.39 2113.79L1871.93 2099.87L1872.48 2084.77L1873.03 2068.5L1873.58 2051.95L1874.14 2035.32L1874.69 2018.41L1875.24 2001.53L1875.79 1984.66L1876.34 1967.82L1876.89 1951.29L1877.44 1935.18L1877.99 1919.39L1878.54 1903.92L1879.09 1888.28L1879.64 1872.96L1880.19 1859.43L1880.74 1848.08L1881.29 1838.52L1881.84 1831.03L1882.38 1825.8L1882.92 1822.65L1883.49 1821.26L1884.11 1821.87L1884.76 1824.25L1885.38 1827.49L1885.95 1831.38L1886.49 1836.14L1887.03 1841.47L1887.57 1847.09L1888.11 1853.28L1888.68 1860.64L1889.29 1869.36L1889.93 1879.24L1890.57 1890.27L1891.19 1902.52L1891.81 1915.91L1892.45 1930.14L1893.13 1945.8L1893.84 1962.31L1894.58 1977.64L1895.34 1991.02L1896.14 2003.23L1896.93 2014.54L1897.7 2024.77L1898.47 2034.11L1899.29 2043.44L1900.19 2053.23L1901.14 2063.01L1902.12 2072.19L1903.11 2080.44L1904.12 2088.1L1905.19 2095.61L1906.33 2103.23L1907.53 2110.7L1908.73 2117.57L1909.86 2123.58L1911 2129L1912.26 2134.27L1913.75 2139.63L1915.37 2144.83L1916.98 2149.6L1918.51 2153.79L1920.04 2157.55L1921.7 2161.02L1923.58 2164.29L1925.59 2167.28L1927.59 2169.85L1929.47 2171.85L1931.35 2173.42L1933.49 2174.88L1936.07 2176.4L1938.91 2177.81L1941.75 2178.89L1944.54 2179.59L1947.34 2179.96L1950 2179.89L1952.45 2179.33L1954.76 2178.33L1957.08 2176.89L1959.48 2174.96L1961.88 2172.59L1964.15 2169.89L1966.2 2166.78L1968.13 2163.33L1970.05 2159.89L1972.01 2156.51L1973.98 2153.13L1975.94 2149.89L1977.95 2146.65L1979.96 2143.54L1981.84 2141.14L1983.47 2139.61L1984.98 2138.78L1986.56 2138.64L1988.32 2139.29L1990.16 2140.63L1991.98 2142.39L1993.66 2144.47L1995.31 2146.97L1997.17 2149.89L1999.39 2153.41L2001.82 2157.34L2004.25 2161.14L2006.52 2164.61L2008.79 2167.94L2011.32 2171.14L2014.29 2174.31L2017.52 2177.35L2020.75 2179.89L2023.9 2181.74L2027.04 2183.09L2030.19 2184.14L2033.3 2184.88L2036.41 2185.31L2039.62 2185.64L2042.91 2185.94L2046.3 2186.14L2050 2186.14L2054.16 2185.9L2058.63 2185.46L2063.21 2184.89L2068.03 2184.07L2072.96 2183.12L2077.36 2182.39L2080.85 2181.99L2083.82 2181.81L2086.79 2181.89L2089.94 2182.25L2093.08 2182.86L2096.23 2183.64L2099.4 2184.65L2102.58 2185.82L2105.66 2186.89L2108.89 2187.8L2112.02 2188.6L2114.2 2189.15" stroke="#808285"/>
<path d="M1614.59 2183.88L1616.26 2183.61L1618.69 2183.18L1621.41 2182.36L1624.3 2180.93L1627.48 2179.12L1630.88 2177.44L1634.46 2176.02L1638.24 2174.73L1642.24 2173.65L1646.52 2172.74L1651.01 2172.04L1655.5 2171.76L1659.99 2172.07L1664.48 2172.8L1668.76 2173.65L1672.69 2174.65L1676.4 2175.77L1680.12 2176.68L1683.98 2177.33L1687.84 2177.76L1691.48 2177.82L1694.82 2177.43L1697.94 2176.66L1700.95 2175.55L1703.82 2174.19L1706.57 2172.48L1709.43 2170.2L1712.42 2167.23L1715.51 2163.67L1718.87 2159.58L1722.62 2154.61L1726.64 2149.1L1730.66 2144.25L1734.68 2140.02L1738.7 2136.44L1742.45 2134.82L1745.77 2136.04L1748.83 2139.23L1751.89 2143.08L1755.03 2147.57L1758.18 2152.73L1761.32 2157.23L1764.51 2160.61L1767.7 2163.33L1770.75 2165.48L1773.64 2166.98L1776.39 2167.91L1779.01 2168.54L1781.46 2169.04L1783.77 2169.25L1786.08 2169.01L1788.49 2168.21L1790.89 2166.96L1793.16 2165.44L1795.21 2163.82L1797.13 2161.92L1799.06 2159.49L1801.02 2156.44L1802.99 2152.86L1804.95 2148.73L1806.92 2144.02L1808.88 2138.75L1810.85 2133.06L1812.81 2127.03L1814.78 2120.57L1816.75 2113.52L1818.75 2105.74L1820.76 2097.37L1822.64 2088.69L1824.3 2079.97L1825.83 2070.94L1827.36 2061.02L1828.99 2049.54L1830.63 2037.17L1832.08 2025.34L1833.23 2014.81L1834.2 2004.82L1835.14 1994.51L1836.14 1983.41L1837.11 1972L1837.97 1960.88L1838.68 1950.44L1839.28 1940.3L1839.86 1929.86L1840.44 1918.66L1840.99 1907.17L1841.51 1896.23L1842.01 1886.13L1842.48 1876.58L1842.92 1867.6L1843.34 1859.14L1843.72 1851.25L1844.1 1844.05L1844.5 1837.5L1844.89 1831.64L1845.28 1826.76L1845.68 1822.77L1846.07 1819.77L1846.46 1818.32L1846.86 1818.71L1847.25 1820.67L1847.64 1823.9L1848.03 1828.19L1848.41 1833.76L1848.82 1841.04L1849.26 1849.87L1849.72 1860.41L1850.24 1873.53L1850.81 1889.58L1851.44 1908.2L1852.12 1929.15L1852.87 1953.08L1853.68 1979.34L1854.48 2005.67L1855.27 2032.26L1856.05 2058.91L1856.84 2082.73L1857.64 2102.87L1858.45 2120.17L1859.2 2134.33L1859.87 2144.76L1860.49 2152.04L1861.08 2157.61L1861.65 2161.6L1862.19 2163.88L1862.74 2165.37L1863.27 2166.23L1863.8 2166.3L1864.39 2166.15L1865.07 2166.09L1865.8 2165.8L1866.51 2164.86L1867.16 2163.28L1867.78 2161.05L1868.4 2157.61L1869.03 2153.05L1869.67 2147.28L1870.28 2139.51L1870.85 2129.17L1871.39 2116.83L1871.93 2103.36L1872.48 2088.76L1873.03 2073.02L1873.58 2057.02L1874.14 2040.95L1874.69 2024.62L1875.24 2008.31L1875.79 1992.03L1876.34 1975.78L1876.89 1959.85L1877.44 1944.33L1877.99 1929.13L1878.54 1914.24L1879.09 1899.2L1879.64 1884.48L1880.19 1871.49L1880.74 1860.62L1881.29 1851.49L1881.84 1844.35L1882.38 1839.4L1882.92 1836.45L1883.49 1835.23L1884.11 1835.92L1884.76 1838.34L1885.38 1841.58L1885.95 1845.43L1886.49 1850.11L1887.03 1855.34L1887.57 1860.85L1888.11 1866.9L1888.68 1874.07L1889.29 1882.56L1889.93 1892.17L1890.57 1902.86L1891.19 1914.72L1891.81 1927.66L1892.45 1941.4L1893.13 1956.51L1893.84 1972.42L1894.58 1987.19L1895.34 2000.08L1896.14 2011.84L1896.93 2022.74L1897.7 2032.59L1898.47 2041.58L1899.29 2050.55L1900.19 2059.95L1901.14 2069.34L1902.12 2078.16L1903.11 2086.08L1904.12 2093.42L1905.19 2100.61L1906.33 2107.9L1907.53 2115.04L1908.73 2121.61L1909.86 2127.35L1911 2132.52L1912.26 2137.54L1913.75 2142.64L1915.37 2147.59L1916.98 2152.13L1918.51 2156.11L1920.04 2159.67L1921.7 2162.96L1923.58 2166.07L1925.59 2168.9L1927.59 2171.33L1929.47 2173.22L1931.35 2174.7L1933.49 2176.08L1936.07 2177.52L1938.91 2178.85L1941.75 2179.87L1944.54 2180.53L1947.34 2180.88L1950 2180.81L1952.45 2180.29L1954.76 2179.34L1957.08 2177.98L1959.48 2176.16L1961.88 2173.93L1964.15 2171.38L1966.2 2168.44L1968.13 2165.19L1970.05 2161.94L1972.01 2158.75L1973.98 2155.57L1975.94 2152.51L1977.95 2149.45L1979.96 2146.53L1981.84 2144.25L1983.47 2142.81L1984.98 2142.03L1986.56 2141.9L1988.32 2142.51L1990.16 2143.77L1991.98 2145.43L1993.66 2147.4L1995.31 2149.76L1997.17 2152.51L1999.39 2155.83L2001.82 2159.54L2004.25 2163.12L2006.52 2166.4L2008.79 2169.54L2011.32 2172.56L2014.29 2175.55L2017.52 2178.42L2020.75 2180.81L2023.9 2182.56L2027.04 2183.83L2030.19 2184.82L2033.3 2185.52L2036.41 2185.93L2039.62 2186.24L2042.91 2186.52L2046.3 2186.71L2050 2186.71L2054.16 2186.48L2058.63 2186.07L2063.21 2185.53L2068.03 2184.76L2072.96 2183.86L2077.36 2183.17L2080.85 2182.79L2083.82 2182.63L2086.79 2182.7L2089.94 2183.04L2093.08 2183.62L2096.23 2184.35L2099.4 2185.3L2102.58 2186.41L2105.66 2187.42L2108.89 2188.27L2112.02 2189.03L2114.2 2189.55" stroke="#3b7dbf"/>
<path d="M1614.59 2184.99L1616.26 2184.73L1618.69 2184.3L1621.41 2183.51L1624.3 2182.11L1627.48 2180.33L1630.88 2178.68L1634.46 2177.29L1638.24 2176.03L1642.24 2174.97L1646.52 2174.08L1651.01 2173.39L1655.5 2173.11L1659.99 2173.42L1664.48 2174.13L1668.76 2174.97L1672.69 2175.95L1676.4 2177.05L1680.12 2177.94L1683.98 2178.57L1687.84 2179L1691.48 2179.05L1694.82 2178.67L1697.94 2177.91L1700.95 2176.83L1703.82 2175.49L1706.57 2173.83L1709.43 2171.59L1712.42 2168.67L1715.51 2165.18L1718.87 2161.18L1722.62 2156.3L1726.64 2150.91L1730.66 2146.16L1734.68 2142.01L1738.7 2138.5L1742.45 2136.92L1745.77 2138.11L1748.83 2141.24L1751.89 2145L1755.03 2149.41L1758.18 2154.46L1761.32 2158.87L1764.51 2162.18L1767.7 2164.86L1770.75 2166.96L1773.64 2168.43L1776.39 2169.34L1779.01 2169.96L1781.46 2170.45L1783.77 2170.65L1786.08 2170.42L1788.49 2169.64L1790.89 2168.41L1793.16 2166.93L1795.21 2165.34L1797.13 2163.49L1799.06 2161.11L1801.02 2158.13L1802.99 2154.63L1804.95 2150.59L1806.92 2145.99L1808.88 2140.85L1810.85 2135.3L1812.81 2129.42L1814.78 2123.12L1816.75 2116.27L1818.75 2108.71L1820.76 2100.58L1822.64 2092.16L1824.3 2083.71L1825.83 2074.96L1827.36 2065.35L1828.99 2054.25L1830.63 2042.29L1832.08 2030.86L1833.23 2020.69L1834.2 2011.05L1835.14 2001.11L1836.14 1990.4L1837.11 1979.4L1837.97 1968.68L1838.68 1958.62L1839.28 1948.84L1839.86 1938.77L1840.44 1927.97L1840.99 1916.89L1841.51 1906.35L1842.01 1896.62L1842.48 1887.43L1842.92 1878.78L1843.34 1870.64L1843.72 1863.04L1844.1 1856.12L1844.5 1849.82L1844.89 1844.2L1845.28 1839.52L1845.68 1835.71L1846.07 1832.85L1846.46 1831.5L1846.86 1831.92L1847.25 1833.85L1847.64 1837.02L1848.03 1841.21L1848.41 1846.63L1848.82 1853.7L1849.26 1862.28L1849.72 1872.51L1850.24 1885.21L1850.81 1900.76L1851.44 1918.79L1852.12 1939.05L1852.87 1962.19L1853.68 1987.57L1854.48 2013L1855.27 2038.68L1856.05 2064.4L1856.84 2087.39L1857.64 2106.82L1858.45 2123.5L1859.2 2137.16L1859.87 2147.22L1860.49 2154.24L1861.08 2159.6L1861.65 2163.46L1862.19 2165.65L1862.74 2167.09L1863.27 2167.91L1863.8 2167.99L1864.39 2167.84L1865.07 2167.78L1865.8 2167.5L1866.51 2166.59L1867.16 2165.07L1867.78 2162.92L1868.4 2159.6L1869.03 2155.21L1869.67 2149.65L1870.28 2142.15L1870.85 2132.19L1871.39 2120.29L1871.93 2107.29L1872.48 2093.2L1873.03 2078.02L1873.58 2062.58L1874.14 2047.06L1874.69 2031.29L1875.24 2015.54L1875.79 1999.82L1876.34 1984.11L1876.89 1968.71L1877.44 1953.7L1877.99 1938.99L1878.54 1924.58L1879.09 1910.02L1879.64 1895.76L1880.19 1883.16L1880.74 1872.61L1881.29 1863.73L1881.84 1856.78L1882.38 1851.94L1882.92 1849.03L1883.49 1847.78L1884.11 1848.39L1884.76 1850.65L1885.38 1853.71L1885.95 1857.38L1886.49 1861.84L1887.03 1866.85L1887.57 1872.11L1888.11 1877.92L1888.68 1884.8L1889.29 1892.96L1889.93 1902.2L1890.57 1912.5L1891.19 1923.94L1891.81 1936.43L1892.45 1949.71L1893.13 1964.31L1893.84 1979.69L1894.58 1993.97L1895.34 2006.45L1896.14 2017.82L1896.93 2028.36L1897.7 2037.89L1898.47 2046.59L1899.29 2055.27L1900.19 2064.39L1901.14 2073.49L1902.12 2082.03L1903.11 2089.71L1904.12 2096.84L1905.19 2103.81L1906.33 2110.9L1907.53 2117.84L1908.73 2124.23L1909.86 2129.8L1911 2134.84L1912.26 2139.73L1913.75 2144.7L1915.37 2149.52L1916.98 2153.94L1918.51 2157.83L1920.04 2161.31L1921.7 2164.52L1923.58 2167.56L1925.59 2170.33L1927.59 2172.7L1929.47 2174.55L1931.35 2176L1933.49 2177.35L1936.07 2178.76L1938.91 2180.07L1941.75 2181.06L1944.54 2181.71L1947.34 2182.06L1950 2181.99L1952.45 2181.47L1954.76 2180.55L1957.08 2179.21L1959.48 2177.43L1961.88 2175.24L1964.15 2172.74L1966.2 2169.86L1968.13 2166.68L1970.05 2163.5L1972.01 2160.37L1973.98 2157.25L1975.94 2154.25L1977.95 2151.25L1979.96 2148.39L1981.84 2146.16L1983.47 2144.75L1984.98 2143.98L1986.56 2143.85L1988.32 2144.45L1990.16 2145.69L1991.98 2147.32L1993.66 2149.24L1995.31 2151.55L1997.17 2154.25L1999.39 2157.5L2001.82 2161.14L2004.25 2164.65L2006.52 2167.86L2008.79 2170.94L2011.32 2173.9L2014.29 2176.83L2017.52 2179.64L2020.75 2181.99L2023.9 2183.7L2027.04 2184.95L2030.19 2185.92L2033.3 2186.6L2036.41 2187L2039.62 2187.3L2042.91 2187.58L2046.3 2187.76L2050 2187.76L2054.16 2187.54L2058.63 2187.14L2063.21 2186.61L2068.03 2185.86L2072.96 2184.97L2077.36 2184.3L2080.85 2183.93L2083.82 2183.77L2086.79 2183.84L2089.94 2184.17L2093.08 2184.73L2096.23 2185.45L2099.4 2186.39L2102.58 2187.47L2105.66 2188.46L2108.89 2189.3L2112.02 2190.04L2114.2 2190.55" stroke="#2bab6e"/>
<path d="M1614.59 2183.23L1616.26 2182.94L1618.69 2182.47L1621.41 2181.59L1624.3 2180.04L1627.48 2178.09L1630.88 2176.27L1634.46 2174.74L1638.24 2173.35L1642.24 2172.18L1646.52 2171.19L1651.01 2170.44L1655.5 2170.13L1659.99 2170.47L1664.48 2171.26L1668.76 2172.18L1672.69 2173.26L1676.4 2174.47L1680.12 2175.45L1683.98 2176.15L1687.84 2176.62L1691.48 2176.68L1694.82 2176.26L1697.94 2175.43L1700.95 2174.23L1703.82 2172.76L1706.57 2170.92L1709.43 2168.45L1712.42 2165.24L1715.51 2161.4L1718.87 2156.99L1722.62 2151.61L1726.64 2145.67L1730.66 2140.43L1734.68 2135.86L1738.7 2131.99L1742.45 2130.24L1745.77 2131.56L1748.83 2135.01L1751.89 2139.16L1755.03 2144.02L1758.18 2149.58L1761.32 2154.44L1764.51 2158.09L1767.7 2161.03L1770.75 2163.35L1773.64 2164.98L1776.39 2165.98L1779.01 2166.66L1781.46 2167.2L1783.77 2167.43L1786.08 2167.17L1788.49 2166.31L1790.89 2164.97L1793.16 2163.34L1795.21 2161.59L1797.13 2159.56L1799.06 2156.95L1801.02 2153.68L1802.99 2149.85L1804.95 2145.43L1806.92 2140.4L1808.88 2134.79L1810.85 2128.75L1812.81 2122.36L1814.78 2115.53L1816.75 2108.11L1818.75 2099.96L1820.76 2091.22L1822.64 2082.17L1824.3 2073.11L1825.83 2063.75L1827.36 2053.5L1828.99 2041.67L1830.63 2028.96L1832.08 2016.82L1833.23 2006.03L1834.2 1995.82L1835.14 1985.3L1836.14 1973.99L1837.11 1962.37L1837.97 1951.05L1838.68 1940.42L1839.28 1930.09L1839.86 1919.46L1840.44 1908.05L1840.99 1896.34L1841.51 1885.22L1842.01 1874.96L1842.48 1865.28L1842.92 1856.18L1843.34 1847.61L1843.72 1839.63L1844.1 1832.37L1844.5 1825.78L1844.89 1819.92L1845.28 1815.07L1845.68 1811.14L1846.07 1808.22L1846.46 1806.91L1846.86 1807.48L1847.25 1809.66L1847.64 1813.15L1848.03 1817.72L1848.41 1823.6L1848.82 1831.22L1849.26 1840.45L1849.72 1851.43L1850.24 1865.03L1850.81 1881.65L1851.44 1900.89L1852.12 1922.49L1852.87 1947.11L1853.68 1974.09L1854.48 2001.09L1855.27 2028.32L1856.05 2055.57L1856.84 2079.91L1857.64 2100.46L1858.45 2118.1L1859.2 2132.53L1859.87 2143.16L1860.49 2150.58L1861.08 2156.24L1861.65 2160.3L1862.19 2162.62L1862.74 2164.14L1863.27 2165.01L1863.8 2165.09L1864.39 2164.93L1865.07 2164.87L1865.8 2164.58L1866.51 2163.61L1867.16 2162.01L1867.78 2159.74L1868.4 2156.24L1869.03 2151.59L1869.67 2145.72L1870.28 2137.8L1870.85 2127.27L1871.39 2114.69L1871.93 2100.95L1872.48 2086.05L1873.03 2069.98L1873.58 2053.63L1874.14 2037.19L1874.69 2020.46L1875.24 2003.75L1875.79 1987.05L1876.34 1970.35L1876.89 1953.97L1877.44 1937.98L1877.99 1922.3L1878.54 1906.92L1879.09 1891.36L1879.64 1876.1L1880.19 1862.61L1880.74 1851.26L1881.29 1841.67L1881.84 1834.13L1882.38 1828.83L1882.92 1825.57L1883.49 1824.06L1884.11 1824.51L1884.76 1826.71L1885.38 1829.78L1885.95 1833.5L1886.49 1838.09L1887.03 1843.26L1887.57 1848.72L1888.11 1854.75L1888.68 1861.94L1889.29 1870.48L1889.93 1880.19L1890.57 1891.04L1891.19 1903.12L1891.81 1916.36L1892.45 1930.45L1893.13 1945.97L1893.84 1962.35L1894.58 1977.56L1895.34 1990.84L1896.14 2002.95L1896.93 2014.18L1897.7 2024.35L1898.47 2033.63L1899.29 2042.91L1900.19 2052.66L1901.14 2062.41L1902.12 2071.56L1903.11 2079.8L1904.12 2087.45L1905.19 2094.95L1906.33 2102.59L1907.53 2110.07L1908.73 2116.97L1909.86 2123L1911 2128.45L1912.26 2133.75L1913.75 2139.14L1915.37 2144.39L1916.98 2149.2L1918.51 2153.43L1920.04 2157.23L1921.7 2160.75L1923.58 2164.07L1925.59 2167.1L1927.59 2169.71L1929.47 2171.73L1931.35 2173.33L1933.49 2174.81L1936.07 2176.36L1938.91 2177.8L1941.75 2178.89L1944.54 2179.61L1947.34 2179.99L1950 2179.91L1952.45 2179.35L1954.76 2178.33L1957.08 2176.86L1959.48 2174.89L1961.88 2172.48L1964.15 2169.72L1966.2 2166.55L1968.13 2163.04L1970.05 2159.53L1972.01 2156.09L1973.98 2152.65L1975.94 2149.35L1977.95 2146.04L1979.96 2142.88L1981.84 2140.43L1983.47 2138.87L1984.98 2138.03L1986.56 2137.88L1988.32 2138.54L1990.16 2139.91L1991.98 2141.7L1993.66 2143.83L1995.31 2146.37L1997.17 2149.35L1999.39 2152.93L2001.82 2156.94L2004.25 2160.81L2006.52 2164.35L2008.79 2167.74L2011.32 2171L2014.29 2174.23L2017.52 2177.33L2020.75 2179.91L2023.9 2181.8L2027.04 2183.18L2030.19 2184.24L2033.3 2185L2036.41 2185.44L2039.62 2185.77L2042.91 2186.08L2046.3 2186.28L2050 2186.28L2054.16 2186.03L2058.63 2185.59L2063.21 2185.01L2068.03 2184.18L2072.96 2183.2L2077.36 2182.46L2080.85 2182.05L2083.82 2181.87L2086.79 2181.95L2089.94 2182.32L2093.08 2182.94L2096.23 2183.73L2099.4 2184.76L2102.58 2185.96L2105.66 2187.04L2108.89 2187.97L2112.02 2188.79L2114.2 2189.35" stroke="#a5562a"/>
<path d="M1614.59 2185.26L1616.26 2185.01L1618.69 2184.6L1621.41 2183.82L1624.3 2182.46L1627.48 2180.74L1630.88 2179.14L1634.45 2177.8L1638.24 2176.57L1642.24 2175.55L1646.52 2174.68L1651 2174.01L1655.49 2173.75L1659.98 2174.04L1664.47 2174.73L1668.74 2175.55L1672.67 2176.49L1676.38 2177.56L1680.09 2178.43L1683.94 2179.04L1687.79 2179.45L1691.43 2179.5L1694.75 2179.13L1697.87 2178.4L1700.87 2177.35L1703.72 2176.05L1706.46 2174.44L1709.31 2172.27L1712.28 2169.44L1715.35 2166.06L1718.69 2162.18L1722.41 2157.45L1726.4 2152.23L1730.38 2147.62L1734.36 2143.59L1738.33 2140.19L1742.04 2138.66L1745.32 2139.82L1748.34 2142.85L1751.35 2146.5L1754.45 2150.77L1757.55 2155.67L1760.64 2159.94L1763.78 2163.15L1766.92 2165.74L1769.93 2167.78L1772.77 2169.21L1775.48 2170.09L1778.06 2170.69L1780.47 2171.16L1782.76 2171.36L1785.04 2171.13L1787.41 2170.37L1789.79 2169.19L1792.04 2167.75L1794.07 2166.2L1795.98 2164.4L1797.89 2162.09L1799.84 2159.19L1801.8 2155.79L1803.76 2151.86L1805.72 2147.38L1807.69 2142.37L1809.65 2136.96L1811.62 2131.22L1813.6 2125.07L1815.58 2118.36L1817.6 2110.95L1819.63 2102.98L1821.53 2094.71L1823.21 2086.4L1824.76 2077.8L1826.31 2068.34L1827.97 2057.39L1829.63 2045.59L1831.11 2034.3L1832.29 2024.26L1833.28 2014.72L1834.24 2004.89L1835.26 1994.3L1836.25 1983.41L1837.14 1972.79L1837.86 1962.83L1838.48 1953.15L1839.07 1943.19L1839.66 1932.5L1840.23 1921.54L1840.76 1911.1L1841.27 1901.45L1841.76 1892.34L1842.22 1883.76L1842.64 1875.69L1843.03 1868.15L1843.43 1861.27L1843.83 1855.01L1844.24 1849.41L1844.64 1844.75L1845.05 1840.93L1845.45 1838.06L1845.86 1836.66L1846.26 1837.03L1846.67 1838.87L1847.07 1841.95L1847.47 1846.02L1847.86 1851.33L1848.29 1858.26L1848.74 1866.67L1849.21 1876.72L1849.75 1889.21L1850.34 1904.52L1850.99 1922.27L1851.69 1942.24L1852.47 1965.07L1853.3 1990.11L1854.13 2015.22L1854.94 2040.59L1855.75 2066.02L1856.57 2088.75L1857.4 2107.96L1858.23 2124.48L1859.01 2137.99L1859.7 2147.94L1860.34 2154.9L1860.96 2160.21L1861.55 2164.02L1862.11 2166.19L1862.67 2167.62L1863.22 2168.43L1863.77 2168.51L1864.38 2168.36L1865.08 2168.3L1865.84 2168.03L1866.57 2167.12L1867.24 2165.62L1867.88 2163.49L1868.53 2160.21L1869.19 2155.85L1869.84 2150.35L1870.48 2142.93L1871.06 2133.07L1871.62 2121.29L1872.19 2108.44L1872.75 2094.5L1873.32 2079.49L1873.89 2064.22L1874.46 2048.89L1875.03 2033.3L1875.6 2017.75L1876.17 2002.22L1876.74 1986.72L1877.3 1971.53L1877.87 1956.73L1878.44 1942.24L1879.01 1928.05L1879.58 1913.71L1880.14 1899.68L1880.71 1887.3L1881.28 1876.94L1881.85 1868.24L1882.41 1861.45L1882.97 1856.75L1883.53 1853.95L1884.11 1852.8L1884.75 1853.48L1885.42 1855.81L1886.05 1858.92L1886.64 1862.61L1887.19 1867.09L1887.75 1872.09L1888.31 1877.35L1888.86 1883.14L1889.45 1890L1890.07 1898.11L1890.73 1907.28L1891.38 1917.49L1892.02 1928.8L1892.65 1941.15L1893.31 1954.26L1894.01 1968.67L1894.73 1983.84L1895.48 1997.92L1896.27 2010.22L1897.08 2021.43L1897.89 2031.82L1898.68 2041.21L1899.46 2049.78L1900.3 2058.33L1901.21 2067.3L1902.18 2076.25L1903.17 2084.65L1904.18 2092.19L1905.2 2099.19L1906.28 2106.03L1907.44 2112.98L1908.65 2119.78L1909.86 2126.04L1911.01 2131.5L1912.16 2136.42L1913.43 2141.2L1914.93 2146.05L1916.55 2150.76L1918.17 2155.08L1919.71 2158.86L1921.24 2162.25L1922.9 2165.38L1924.77 2168.34L1926.78 2171.03L1928.78 2173.34L1930.65 2175.13L1932.51 2176.54L1934.64 2177.86L1937.19 2179.22L1940 2180.49L1942.81 2181.45L1945.57 2182.08L1948.33 2182.42L1950.95 2182.35L1953.36 2181.85L1955.64 2180.95L1957.92 2179.66L1960.29 2177.93L1962.65 2175.81L1964.89 2173.39L1966.91 2170.6L1968.8 2167.51L1970.69 2164.42L1972.63 2161.39L1974.57 2158.37L1976.5 2155.46L1978.48 2152.56L1980.46 2149.78L1982.32 2147.62L1983.93 2146.25L1985.41 2145.5L1986.97 2145.38L1988.71 2145.96L1990.54 2147.16L1992.33 2148.74L1993.99 2150.61L1995.62 2152.85L1997.47 2155.46L1999.66 2158.61L2002.07 2162.14L2004.48 2165.54L2006.73 2168.66L2008.98 2171.64L2011.5 2174.51L2014.45 2177.35L2017.66 2180.07L2020.87 2182.35L2024 2184.01L2027.14 2185.22L2030.27 2186.16L2033.37 2186.82L2036.47 2187.21L2039.67 2187.5L2042.95 2187.78L2046.33 2187.95L2050.03 2187.95L2054.18 2187.73L2058.65 2187.34L2063.22 2186.83L2068.04 2186.1L2072.96 2185.24L2077.36 2184.59L2080.86 2184.23L2083.83 2184.07L2086.8 2184.14L2089.94 2184.46L2093.08 2185.01L2096.23 2185.71L2099.41 2186.61L2102.58 2187.67L2105.66 2188.62L2108.89 2189.44L2112.02 2190.16L2114.2 2190.65" stroke="#fbae3c"/>
<path d="M1614.59 2182.88L1616.26 2182.61L1618.69 2182.18L1621.41 2181.36L1624.3 2179.93L1627.48 2178.12L1630.88 2176.44L1634.46 2175.02L1638.24 2173.73L1642.24 2172.65L1646.52 2171.74L1651.01 2171.04L1655.5 2170.76L1659.99 2171.07L1664.48 2171.8L1668.76 2172.65L1672.69 2173.65L1676.4 2174.77L1680.12 2175.68L1683.98 2176.33L1687.84 2176.76L1691.48 2176.82L1694.82 2176.43L1697.94 2175.66L1700.95 2174.55L1703.82 2173.19L1706.57 2171.48L1709.43 2169.2L1712.42 2166.23L1715.51 2162.67L1718.87 2158.58L1722.62 2153.61L1726.64 2148.1L1730.66 2143.25L1734.68 2139.02L1738.7 2135.44L1742.45 2133.82L1745.77 2135.04L1748.83 2138.23L1751.89 2142.08L1755.03 2146.57L1758.18 2151.73L1761.32 2156.23L1764.51 2159.61L1767.7 2162.33L1770.75 2164.48L1773.64 2165.98L1776.39 2166.91L1779.01 2167.55L1781.46 2168.05L1783.77 2168.25L1786.08 2168.02L1788.49 2167.22L1790.89 2165.98L1793.16 2164.48L1795.21 2162.87L1797.13 2160.99L1799.06 2158.58L1801.02 2155.57L1802.99 2152.03L1804.95 2147.97L1806.92 2143.34L1808.88 2138.19L1810.85 2132.64L1812.81 2126.79L1814.78 2120.54L1816.75 2113.77L1818.75 2106.35L1820.76 2098.4L1822.64 2090.19L1824.3 2081.98L1825.83 2073.5L1827.36 2064.25L1828.99 2053.59L1830.63 2042.15L1832.08 2031.23L1833.23 2021.53L1834.2 2012.36L1835.14 2002.92L1836.14 1992.79L1837.11 1982.4L1837.97 1972.26L1838.68 1962.74L1839.28 1953.48L1839.86 1943.96L1840.44 1933.74L1840.99 1923.26L1841.51 1913.3L1842.01 1904.13L1842.48 1895.48L1842.92 1887.36L1843.34 1879.72L1843.72 1872.6L1844.1 1866.13L1844.5 1860.28L1844.89 1855.08L1845.28 1850.8L1845.68 1847.35L1846.07 1844.82L1846.46 1843.73L1846.86 1844.34L1847.25 1846.39L1847.64 1849.62L1848.03 1853.82L1848.41 1859.19L1848.82 1866.13L1849.26 1874.52L1849.72 1884.48L1850.24 1896.79L1850.81 1911.82L1851.44 1929.2L1852.12 1948.68L1852.87 1970.87L1853.68 1995.15L1854.48 2019.43L1855.27 2043.89L1856.05 2068.35L1856.84 2090.19L1857.64 2108.62L1858.45 2124.43L1859.2 2137.36L1859.87 2146.88L1860.49 2153.52L1861.08 2158.58L1861.65 2162.23L1862.19 2164.3L1862.74 2165.66L1863.27 2166.44L1863.8 2166.51L1864.39 2166.37L1865.07 2166.32L1865.8 2166.05L1866.51 2165.19L1867.16 2163.76L1867.78 2161.72L1868.4 2158.58L1869.03 2154.43L1869.67 2149.17L1870.28 2142.08L1870.85 2132.64L1871.39 2121.37L1871.93 2109.06L1872.48 2095.69L1873.03 2081.28L1873.58 2066.6L1874.14 2051.84L1874.69 2036.82L1875.24 2021.79L1875.79 2006.77L1876.34 1991.74L1876.89 1976.98L1877.44 1962.57L1877.99 1948.42L1878.54 1934.53L1879.09 1920.46L1879.64 1906.66L1880.19 1894.43L1880.74 1884.13L1881.29 1875.39L1881.84 1868.49L1882.38 1863.6L1882.92 1860.54L1883.49 1859.06L1884.11 1859.32L1884.76 1861.15L1885.38 1863.77L1885.95 1867.01L1886.49 1871.02L1887.03 1875.57L1887.57 1880.37L1888.11 1885.7L1888.68 1892.08L1889.29 1899.68L1889.93 1908.32L1890.57 1918.02L1891.19 1928.85L1891.81 1940.73L1892.45 1953.4L1893.13 1967.37L1893.84 1982.13L1894.58 1995.85L1895.34 2007.82L1896.14 2018.74L1896.93 2028.87L1897.7 2038.04L1898.47 2046.43L1899.29 2054.81L1900.19 2063.63L1901.14 2072.46L1902.12 2080.75L1903.11 2088.22L1904.12 2095.17L1905.19 2101.98L1906.33 2108.93L1907.53 2115.74L1908.73 2122.03L1909.86 2127.53L1911 2132.51L1912.26 2137.36L1913.75 2142.29L1915.37 2147.1L1916.98 2151.51L1918.51 2155.4L1920.04 2158.89L1921.7 2162.12L1923.58 2165.18L1925.59 2167.98L1927.59 2170.38L1929.47 2172.25L1931.35 2173.72L1933.49 2175.09L1936.07 2176.53L1938.91 2177.85L1941.75 2178.87L1944.54 2179.53L1947.34 2179.88L1950 2179.81L1952.45 2179.29L1954.76 2178.34L1957.08 2176.98L1959.48 2175.16L1961.88 2172.93L1964.15 2170.38L1966.2 2167.44L1968.13 2164.19L1970.05 2160.94L1972.01 2157.76L1973.98 2154.57L1975.94 2151.51L1977.95 2148.45L1979.96 2145.53L1981.84 2143.25L1983.47 2141.81L1984.98 2141.03L1986.56 2140.9L1988.32 2141.51L1990.16 2142.77L1991.98 2144.43L1993.66 2146.4L1995.31 2148.76L1997.17 2151.51L1999.39 2154.83L2001.82 2158.54L2004.25 2162.12L2006.52 2165.4L2008.79 2168.54L2011.32 2171.56L2014.29 2174.55L2017.52 2177.42L2020.75 2179.81L2023.9 2181.56L2027.04 2182.83L2030.19 2183.82L2033.3 2184.52L2036.41 2184.93L2039.62 2185.24L2042.91 2185.52L2046.3 2185.71L2050 2185.71L2054.16 2185.48L2058.63 2185.07L2063.21 2184.53L2068.03 2183.76L2072.96 2182.86L2077.36 2182.17L2080.85 2181.79L2083.82 2181.63L2086.79 2181.7L2089.94 2182.04L2093.08 2182.62L2096.23 2183.35L2099.4 2184.3L2102.58 2185.41L2105.66 2186.42L2108.89 2187.27L2112.02 2188.03L2114.2 2188.55" stroke="#e11b22"/>
</g>
<path d="M1595.3 1759.4V2218.9H2134.7M1595.3 2118.9h-10.5M1595.3 1999.6h-10.5M1595.3 1880.3h-10.5M1595.3 1761h-10.5M1615.2 2218.9v10.5M1739.95 2218.9v10.5M1864.7 2218.9v10.5M1989.45 2218.9v10.5M2114.2 2218.9v10.5" fill="none" stroke="#000" stroke-width="3.3"/>
<text transform="translate(1577.6 2118.9) rotate(-90)" font-size="24.4" text-anchor="middle" textLength="25" lengthAdjust="spacingAndGlyphs">20</text>
<text transform="translate(1577.6 1999.6) rotate(-90)" font-size="24.4" text-anchor="middle" textLength="25" lengthAdjust="spacingAndGlyphs">40</text>
<text transform="translate(1577.6 1880.3) rotate(-90)" font-size="24.4" text-anchor="middle" textLength="25" lengthAdjust="spacingAndGlyphs">60</text>
<text transform="translate(1577.6 1761) rotate(-90)" font-size="24.4" text-anchor="middle" textLength="25" lengthAdjust="spacingAndGlyphs">80</text>
<text x="1618.4" y="2251.8" font-size="22.4" text-anchor="middle">−500</text>
<text x="1743.15" y="2251.8" font-size="22.4" text-anchor="middle">−250</text>
<text x="1864.7" y="2251.8" font-size="22.4" text-anchor="middle">0</text>
<text x="1991.15" y="2251.8" font-size="22.4" text-anchor="middle">250</text>
<text x="2115.9" y="2251.8" font-size="22.4" text-anchor="middle">500</text>
<text transform="translate(1525 1991.5) rotate(-90)" font-size="32" text-anchor="middle">ATAC read density normalized</text>
<text x="1866.9" y="2295" font-size="29.9" text-anchor="middle">Position relative to CTCF (bp)</text>
<text x="1621.2" y="1788.2" font-size="30.5" fill="#808285">WT</text>
<text x="1621.2" y="1819.2" font-size="30.5" fill="#d7222b">Rsf1Δ</text>
<text x="1618.2" y="1847.7" font-size="30.5" fill="#3b7dbf">Tip5Δ</text>
<text x="1621.2" y="1878" font-size="30.5" fill="#2bab6e">WstfΔ</text>
<text x="1621.2" y="1904.5" font-size="30.5" fill="#a5562a">Cecr2Δ</text>
<text x="1621.2" y="1934.8" font-size="30.5" fill="#f9a83d">Acf1Δ</text>
<path d="M1831.8 2322.2L1857.9 2311.6V2318.2H1892.2V2326.2H1857.9V2332.8Z" fill="#58595b"/>
</g>
</svg>
</body></html>
